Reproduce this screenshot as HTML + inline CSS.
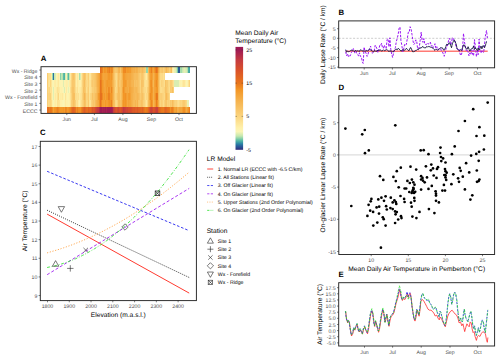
<!DOCTYPE html>
<html><head><meta charset="utf-8"><title>Figure</title>
<style>html,body{margin:0;padding:0;background:#fff;overflow:hidden}svg{display:block}text{text-rendering:geometricPrecision}</style>
</head><body>
<svg width="500" height="359" viewBox="0 0 500 359" font-family='"Liberation Sans", Arial, Helvetica, sans-serif'>
<rect width="500" height="359" fill="#fff"/>
<g shape-rendering="crispEdges">
<rect x="100.46" y="66.70" width="0.97" height="6.72" fill="#e56e1f"/>
<rect x="101.38" y="66.70" width="0.97" height="6.72" fill="#e9771d"/>
<rect x="102.30" y="66.70" width="0.97" height="6.72" fill="#ee8621"/>
<rect x="103.22" y="66.70" width="0.97" height="6.72" fill="#f49f32"/>
<rect x="104.14" y="66.70" width="0.97" height="6.72" fill="#f29325"/>
<rect x="105.06" y="66.70" width="0.97" height="6.72" fill="#f39727"/>
<rect x="105.98" y="66.70" width="0.97" height="6.72" fill="#f39c2f"/>
<rect x="106.90" y="66.70" width="0.97" height="6.72" fill="#ef8a22"/>
<rect x="107.82" y="66.70" width="0.97" height="6.72" fill="#ef8a22"/>
<rect x="108.74" y="66.70" width="0.97" height="6.72" fill="#eb7d1f"/>
<rect x="109.66" y="66.70" width="0.97" height="6.72" fill="#f29425"/>
<rect x="110.58" y="66.70" width="0.97" height="6.72" fill="#ee8722"/>
<rect x="111.50" y="66.70" width="0.97" height="6.72" fill="#eb7f1f"/>
<rect x="112.42" y="66.70" width="0.97" height="6.72" fill="#f18f24"/>
<rect x="113.34" y="66.70" width="0.97" height="6.72" fill="#f6b450"/>
<rect x="114.26" y="66.70" width="0.97" height="6.72" fill="#f8c163"/>
<rect x="115.18" y="66.70" width="0.97" height="6.72" fill="#f9c86c"/>
<rect x="116.10" y="66.70" width="0.97" height="6.72" fill="#f9c66a"/>
<rect x="117.02" y="66.70" width="0.97" height="6.72" fill="#f8c264"/>
<rect x="117.94" y="66.70" width="0.97" height="6.72" fill="#f6b552"/>
<rect x="118.86" y="66.70" width="0.97" height="6.72" fill="#f6b34e"/>
<rect x="119.78" y="66.70" width="0.97" height="6.72" fill="#f9c569"/>
<rect x="120.70" y="66.70" width="0.97" height="6.72" fill="#f5b34e"/>
<rect x="121.62" y="66.70" width="0.97" height="6.72" fill="#f4a73d"/>
<rect x="122.54" y="66.70" width="0.97" height="6.72" fill="#f39728"/>
<rect x="123.46" y="66.70" width="0.97" height="6.72" fill="#ef8a22"/>
<rect x="124.38" y="66.70" width="0.97" height="6.72" fill="#ef8922"/>
<rect x="125.30" y="66.70" width="0.97" height="6.72" fill="#ee8721"/>
<rect x="126.22" y="66.70" width="0.97" height="6.72" fill="#f39c2e"/>
<rect x="127.14" y="66.70" width="0.97" height="6.72" fill="#f39829"/>
<rect x="128.06" y="66.70" width="0.97" height="6.72" fill="#f3992a"/>
<rect x="128.98" y="66.70" width="0.97" height="6.72" fill="#f39c2f"/>
<rect x="129.90" y="66.70" width="0.97" height="6.72" fill="#f39a2c"/>
<rect x="130.82" y="66.70" width="0.97" height="6.72" fill="#f4a83f"/>
<rect x="131.74" y="66.70" width="0.97" height="6.72" fill="#f5ac44"/>
<rect x="132.66" y="66.70" width="0.97" height="6.72" fill="#f5af49"/>
<rect x="133.58" y="66.70" width="0.97" height="6.72" fill="#f5ad47"/>
<rect x="134.50" y="66.70" width="0.97" height="6.72" fill="#f6b551"/>
<rect x="135.42" y="66.70" width="0.97" height="6.72" fill="#f6b450"/>
<rect x="136.34" y="66.70" width="0.97" height="6.72" fill="#f5af49"/>
<rect x="137.26" y="66.70" width="0.97" height="6.72" fill="#f5b24d"/>
<rect x="138.18" y="66.70" width="0.97" height="6.72" fill="#f7bc5b"/>
<rect x="139.10" y="66.70" width="0.97" height="6.72" fill="#f7bb5a"/>
<rect x="140.02" y="66.70" width="0.97" height="6.72" fill="#f8c264"/>
<rect x="140.94" y="66.70" width="0.97" height="6.72" fill="#f8c061"/>
<rect x="141.86" y="66.70" width="0.97" height="6.72" fill="#f7ba59"/>
<rect x="142.78" y="66.70" width="0.97" height="6.72" fill="#f8c264"/>
<rect x="143.70" y="66.70" width="0.97" height="6.72" fill="#f9c66a"/>
<rect x="144.62" y="66.70" width="0.97" height="6.72" fill="#fad078"/>
<rect x="145.54" y="66.70" width="0.97" height="6.72" fill="#fcdc8a"/>
<rect x="146.46" y="66.70" width="0.97" height="6.72" fill="#96d7aa"/>
<rect x="147.38" y="66.70" width="0.97" height="6.72" fill="#96d7aa"/>
<rect x="148.30" y="66.70" width="0.97" height="6.72" fill="#f7ba59"/>
<rect x="149.22" y="66.70" width="0.97" height="6.72" fill="#f39c2f"/>
<rect x="150.14" y="66.70" width="0.97" height="6.72" fill="#f29425"/>
<rect x="151.06" y="66.70" width="0.97" height="6.72" fill="#eb7e1f"/>
<rect x="151.98" y="66.70" width="0.97" height="6.72" fill="#f39b2d"/>
<rect x="152.90" y="66.70" width="0.97" height="6.72" fill="#f4a439"/>
<rect x="153.82" y="66.70" width="0.97" height="6.72" fill="#f39626"/>
<rect x="154.74" y="66.70" width="0.97" height="6.72" fill="#ed8320"/>
<rect x="155.66" y="66.70" width="0.97" height="6.72" fill="#e6701e"/>
<rect x="156.58" y="66.70" width="0.97" height="6.72" fill="#ec801f"/>
<rect x="157.50" y="66.70" width="0.97" height="6.72" fill="#f08c23"/>
<rect x="158.42" y="66.70" width="0.97" height="6.72" fill="#f4a940"/>
<rect x="159.34" y="66.70" width="0.97" height="6.72" fill="#f7bd5d"/>
<rect x="160.26" y="66.70" width="0.97" height="6.72" fill="#facb72"/>
<rect x="161.18" y="66.70" width="0.97" height="6.72" fill="#f9c86c"/>
<rect x="162.10" y="66.70" width="0.97" height="6.72" fill="#f9c569"/>
<rect x="163.02" y="66.70" width="0.97" height="6.72" fill="#fad079"/>
<rect x="163.94" y="66.70" width="0.97" height="6.72" fill="#f9ca6f"/>
<rect x="164.86" y="66.70" width="0.97" height="6.72" fill="#f8c163"/>
<rect x="165.78" y="66.70" width="0.97" height="6.72" fill="#f6b754"/>
<rect x="166.70" y="66.70" width="0.97" height="6.72" fill="#f8c264"/>
<rect x="167.62" y="66.70" width="0.97" height="6.72" fill="#f8c467"/>
<rect x="168.54" y="66.70" width="0.97" height="6.72" fill="#f9cb71"/>
<rect x="169.46" y="66.70" width="0.97" height="6.72" fill="#fad17a"/>
<rect x="170.38" y="66.70" width="0.97" height="6.72" fill="#f9c76b"/>
<rect x="171.30" y="66.70" width="0.97" height="6.72" fill="#f7bb5a"/>
<rect x="172.22" y="66.70" width="0.97" height="6.72" fill="#fee99f"/>
<rect x="173.14" y="66.70" width="0.97" height="6.72" fill="#fdf2ae"/>
<rect x="174.06" y="66.70" width="0.97" height="6.72" fill="#e8f1b4"/>
<rect x="174.98" y="66.70" width="0.97" height="6.72" fill="#e2efb3"/>
<rect x="175.90" y="66.70" width="0.97" height="6.72" fill="#c5e8b0"/>
<rect x="176.82" y="66.70" width="0.97" height="6.72" fill="#76c8a8"/>
<rect x="177.74" y="66.70" width="0.97" height="6.72" fill="#2a5b99"/>
<rect x="178.66" y="66.70" width="0.97" height="6.72" fill="#2a5b99"/>
<rect x="179.58" y="66.70" width="0.97" height="6.72" fill="#a9deac"/>
<rect x="180.50" y="66.70" width="0.97" height="6.72" fill="#a2dbac"/>
<rect x="181.42" y="66.70" width="0.97" height="6.72" fill="#a3dcac"/>
<rect x="182.34" y="66.70" width="0.97" height="6.72" fill="#cae9b1"/>
<rect x="183.26" y="66.70" width="0.97" height="6.72" fill="#daedb2"/>
<rect x="184.18" y="66.70" width="0.97" height="6.72" fill="#e5f0b4"/>
<rect x="185.10" y="66.70" width="0.97" height="6.72" fill="#deeeb3"/>
<rect x="186.02" y="66.70" width="0.97" height="6.72" fill="#d5ecb2"/>
<rect x="186.94" y="66.70" width="0.97" height="6.72" fill="#afe0ad"/>
<rect x="187.86" y="66.70" width="0.97" height="6.72" fill="#4aada5"/>
<rect x="188.78" y="66.70" width="0.97" height="6.72" fill="#44a5a5"/>
<rect x="47.10" y="73.37" width="0.97" height="6.72" fill="#facd74"/>
<rect x="48.02" y="73.37" width="0.97" height="6.72" fill="#fcdc8b"/>
<rect x="48.94" y="73.37" width="0.97" height="6.72" fill="#fddf90"/>
<rect x="49.86" y="73.37" width="0.97" height="6.72" fill="#fddf90"/>
<rect x="50.78" y="73.37" width="0.97" height="6.72" fill="#ffeda5"/>
<rect x="51.70" y="73.37" width="0.97" height="6.72" fill="#98d8aa"/>
<rect x="52.62" y="73.37" width="0.97" height="6.72" fill="#2a72a0"/>
<rect x="53.54" y="73.37" width="0.97" height="6.72" fill="#41a2a5"/>
<rect x="54.46" y="73.37" width="0.97" height="6.72" fill="#c7e9b0"/>
<rect x="55.38" y="73.37" width="0.97" height="6.72" fill="#d7ecb2"/>
<rect x="56.30" y="73.37" width="0.97" height="6.72" fill="#fbf4b3"/>
<rect x="57.22" y="73.37" width="0.97" height="6.72" fill="#fff0a9"/>
<rect x="58.14" y="73.37" width="0.97" height="6.72" fill="#fee99f"/>
<rect x="59.06" y="73.37" width="0.97" height="6.72" fill="#fbf4b4"/>
<rect x="59.98" y="73.37" width="0.97" height="6.72" fill="#8cd2a9"/>
<rect x="60.90" y="73.37" width="0.97" height="6.72" fill="#c0e6af"/>
<rect x="61.82" y="73.37" width="0.97" height="6.72" fill="#b4e2ae"/>
<rect x="62.74" y="73.37" width="0.97" height="6.72" fill="#5dbca6"/>
<rect x="63.66" y="73.37" width="0.97" height="6.72" fill="#4fb5a5"/>
<rect x="64.58" y="73.37" width="0.97" height="6.72" fill="#daedb2"/>
<rect x="65.50" y="73.37" width="0.97" height="6.72" fill="#fef1ac"/>
<rect x="66.42" y="73.37" width="0.97" height="6.72" fill="#fbf4b3"/>
<rect x="67.34" y="73.37" width="0.97" height="6.72" fill="#a2dbac"/>
<rect x="68.26" y="73.37" width="0.97" height="6.72" fill="#5abaa6"/>
<rect x="69.18" y="73.37" width="0.97" height="6.72" fill="#c2e7b0"/>
<rect x="70.10" y="73.37" width="0.97" height="6.72" fill="#feeaa0"/>
<rect x="71.02" y="73.37" width="0.97" height="6.72" fill="#fbd580"/>
<rect x="71.94" y="73.37" width="0.97" height="6.72" fill="#f9c669"/>
<rect x="72.86" y="73.37" width="0.97" height="6.72" fill="#f8c162"/>
<rect x="73.78" y="73.37" width="0.97" height="6.72" fill="#f9c86d"/>
<rect x="74.70" y="73.37" width="0.97" height="6.72" fill="#fcdd8d"/>
<rect x="75.62" y="73.37" width="0.97" height="6.72" fill="#ffefa8"/>
<rect x="76.54" y="73.37" width="0.97" height="6.72" fill="#fde192"/>
<rect x="77.46" y="73.37" width="0.97" height="6.72" fill="#fee79c"/>
<rect x="78.38" y="73.37" width="0.97" height="6.72" fill="#fdf2ae"/>
<rect x="79.30" y="73.37" width="0.97" height="6.72" fill="#addfad"/>
<rect x="80.22" y="73.37" width="0.97" height="6.72" fill="#d7ecb2"/>
<rect x="81.14" y="73.37" width="0.97" height="6.72" fill="#fee99e"/>
<rect x="82.06" y="73.37" width="0.97" height="6.72" fill="#fbd580"/>
<rect x="82.98" y="73.37" width="0.97" height="6.72" fill="#f9c66a"/>
<rect x="83.90" y="73.37" width="0.97" height="6.72" fill="#f8bf60"/>
<rect x="84.82" y="73.37" width="0.97" height="6.72" fill="#f9c76b"/>
<rect x="85.74" y="73.37" width="0.97" height="6.72" fill="#fcdc8a"/>
<rect x="86.66" y="73.37" width="0.97" height="6.72" fill="#fcd987"/>
<rect x="87.58" y="73.37" width="0.97" height="6.72" fill="#face75"/>
<rect x="88.50" y="73.37" width="0.97" height="6.72" fill="#fbd37d"/>
<rect x="89.42" y="73.37" width="0.97" height="6.72" fill="#fee69a"/>
<rect x="90.34" y="73.37" width="0.97" height="6.72" fill="#fee69b"/>
<rect x="91.26" y="73.37" width="0.97" height="6.72" fill="#fbd580"/>
<rect x="92.18" y="73.37" width="0.97" height="6.72" fill="#facd74"/>
<rect x="93.10" y="73.37" width="0.97" height="6.72" fill="#f9cb71"/>
<rect x="94.02" y="73.37" width="0.97" height="6.72" fill="#f9c86c"/>
<rect x="94.94" y="73.37" width="0.97" height="6.72" fill="#f8c365"/>
<rect x="95.86" y="73.37" width="0.97" height="6.72" fill="#f7ba59"/>
<rect x="96.78" y="73.37" width="0.97" height="6.72" fill="#f5b24d"/>
<rect x="97.70" y="73.37" width="0.97" height="6.72" fill="#f5aa41"/>
<rect x="98.62" y="73.37" width="0.97" height="6.72" fill="#f4a135"/>
<rect x="99.54" y="73.37" width="0.97" height="6.72" fill="#f39626"/>
<rect x="100.46" y="73.37" width="0.97" height="6.72" fill="#ec8120"/>
<rect x="101.38" y="73.37" width="0.97" height="6.72" fill="#ef8b23"/>
<rect x="102.30" y="73.37" width="0.97" height="6.72" fill="#f49f32"/>
<rect x="103.22" y="73.37" width="0.97" height="6.72" fill="#f4a63d"/>
<rect x="104.14" y="73.37" width="0.97" height="6.72" fill="#f4a439"/>
<rect x="105.06" y="73.37" width="0.97" height="6.72" fill="#f4a338"/>
<rect x="105.98" y="73.37" width="0.97" height="6.72" fill="#f4a439"/>
<rect x="106.90" y="73.37" width="0.97" height="6.72" fill="#f49f32"/>
<rect x="107.82" y="73.37" width="0.97" height="6.72" fill="#f39828"/>
<rect x="108.74" y="73.37" width="0.97" height="6.72" fill="#f39728"/>
<rect x="109.66" y="73.37" width="0.97" height="6.72" fill="#f49d30"/>
<rect x="110.58" y="73.37" width="0.97" height="6.72" fill="#f39727"/>
<rect x="111.50" y="73.37" width="0.97" height="6.72" fill="#f39828"/>
<rect x="112.42" y="73.37" width="0.97" height="6.72" fill="#f4a63c"/>
<rect x="113.34" y="73.37" width="0.97" height="6.72" fill="#f7ba58"/>
<rect x="114.26" y="73.37" width="0.97" height="6.72" fill="#f9c86d"/>
<rect x="115.18" y="73.37" width="0.97" height="6.72" fill="#fbd682"/>
<rect x="116.10" y="73.37" width="0.97" height="6.72" fill="#fcda88"/>
<rect x="117.02" y="73.37" width="0.97" height="6.72" fill="#face75"/>
<rect x="117.94" y="73.37" width="0.97" height="6.72" fill="#f7be5f"/>
<rect x="118.86" y="73.37" width="0.97" height="6.72" fill="#f8c366"/>
<rect x="119.78" y="73.37" width="0.97" height="6.72" fill="#f9ca70"/>
<rect x="120.70" y="73.37" width="0.97" height="6.72" fill="#f8c163"/>
<rect x="121.62" y="73.37" width="0.97" height="6.72" fill="#f5b14b"/>
<rect x="122.54" y="73.37" width="0.97" height="6.72" fill="#f4a034"/>
<rect x="123.46" y="73.37" width="0.97" height="6.72" fill="#f3992a"/>
<rect x="124.38" y="73.37" width="0.97" height="6.72" fill="#f39b2d"/>
<rect x="125.30" y="73.37" width="0.97" height="6.72" fill="#f4a136"/>
<rect x="126.22" y="73.37" width="0.97" height="6.72" fill="#f4a53b"/>
<rect x="127.14" y="73.37" width="0.97" height="6.72" fill="#f4a83e"/>
<rect x="128.06" y="73.37" width="0.97" height="6.72" fill="#f4a941"/>
<rect x="128.98" y="73.37" width="0.97" height="6.72" fill="#f4a840"/>
<rect x="129.90" y="73.37" width="0.97" height="6.72" fill="#f4a940"/>
<rect x="130.82" y="73.37" width="0.97" height="6.72" fill="#f5af49"/>
<rect x="131.74" y="73.37" width="0.97" height="6.72" fill="#f5b24d"/>
<rect x="132.66" y="73.37" width="0.97" height="6.72" fill="#f6b653"/>
<rect x="133.58" y="73.37" width="0.97" height="6.72" fill="#f7bb5a"/>
<rect x="134.50" y="73.37" width="0.97" height="6.72" fill="#f7be5e"/>
<rect x="135.42" y="73.37" width="0.97" height="6.72" fill="#f7bc5c"/>
<rect x="136.34" y="73.37" width="0.97" height="6.72" fill="#f7bb5a"/>
<rect x="137.26" y="73.37" width="0.97" height="6.72" fill="#f7bc5b"/>
<rect x="138.18" y="73.37" width="0.97" height="6.72" fill="#f8c366"/>
<rect x="139.10" y="73.37" width="0.97" height="6.72" fill="#f9c96e"/>
<rect x="140.02" y="73.37" width="0.97" height="6.72" fill="#fad078"/>
<rect x="140.94" y="73.37" width="0.97" height="6.72" fill="#f9c76b"/>
<rect x="141.86" y="73.37" width="0.97" height="6.72" fill="#f9c569"/>
<rect x="142.78" y="73.37" width="0.97" height="6.72" fill="#facd75"/>
<rect x="143.70" y="73.37" width="0.97" height="6.72" fill="#fcd986"/>
<rect x="144.62" y="73.37" width="0.97" height="6.72" fill="#fde497"/>
<rect x="145.54" y="73.37" width="0.97" height="6.72" fill="#feeca3"/>
<rect x="146.46" y="73.37" width="0.97" height="6.72" fill="#feeba2"/>
<rect x="147.38" y="73.37" width="0.97" height="6.72" fill="#fcda88"/>
<rect x="148.30" y="73.37" width="0.97" height="6.72" fill="#f8c365"/>
<rect x="149.22" y="73.37" width="0.97" height="6.72" fill="#f5ae47"/>
<rect x="150.14" y="73.37" width="0.97" height="6.72" fill="#f49e32"/>
<rect x="151.06" y="73.37" width="0.97" height="6.72" fill="#f3992a"/>
<rect x="151.98" y="73.37" width="0.97" height="6.72" fill="#f4a337"/>
<rect x="152.90" y="73.37" width="0.97" height="6.72" fill="#f5b34e"/>
<rect x="153.82" y="73.37" width="0.97" height="6.72" fill="#f4a83f"/>
<rect x="154.74" y="73.37" width="0.97" height="6.72" fill="#f39c2e"/>
<rect x="155.66" y="73.37" width="0.97" height="6.72" fill="#f29425"/>
<rect x="156.58" y="73.37" width="0.97" height="6.72" fill="#f39727"/>
<rect x="157.50" y="73.37" width="0.97" height="6.72" fill="#f4a237"/>
<rect x="158.42" y="73.37" width="0.97" height="6.72" fill="#f6b653"/>
<rect x="159.34" y="73.37" width="0.97" height="6.72" fill="#f9c96e"/>
<rect x="160.26" y="73.37" width="0.97" height="6.72" fill="#fcd986"/>
<rect x="161.18" y="73.37" width="0.97" height="6.72" fill="#fcdb88"/>
<rect x="162.10" y="73.37" width="0.97" height="6.72" fill="#fcd986"/>
<rect x="163.02" y="73.37" width="0.97" height="6.72" fill="#fde091"/>
<rect x="163.94" y="73.37" width="0.97" height="6.72" fill="#fcda88"/>
<rect x="47.10" y="80.04" width="0.97" height="6.72" fill="#facd73"/>
<rect x="48.02" y="80.04" width="0.97" height="6.72" fill="#fddf8f"/>
<rect x="48.94" y="80.04" width="0.97" height="6.72" fill="#fde396"/>
<rect x="49.86" y="80.04" width="0.97" height="6.72" fill="#fbd57f"/>
<rect x="50.78" y="80.04" width="0.97" height="6.72" fill="#fde498"/>
<rect x="51.70" y="80.04" width="0.97" height="6.72" fill="#fcf3b1"/>
<rect x="52.62" y="80.04" width="0.97" height="6.72" fill="#f8f4b6"/>
<rect x="53.54" y="80.04" width="0.97" height="6.72" fill="#e8f1b4"/>
<rect x="54.46" y="80.04" width="0.97" height="6.72" fill="#ffeda6"/>
<rect x="55.38" y="80.04" width="0.97" height="6.72" fill="#feeca4"/>
<rect x="56.30" y="80.04" width="0.97" height="6.72" fill="#fdf2ae"/>
<rect x="57.22" y="80.04" width="0.97" height="6.72" fill="#ffeda5"/>
<rect x="58.14" y="80.04" width="0.97" height="6.72" fill="#fee79b"/>
<rect x="59.06" y="80.04" width="0.97" height="6.72" fill="#fdf2af"/>
<rect x="59.98" y="80.04" width="0.97" height="6.72" fill="#fcf3b1"/>
<rect x="60.90" y="80.04" width="0.97" height="6.72" fill="#fbf4b3"/>
<rect x="61.82" y="80.04" width="0.97" height="6.72" fill="#fcf3b1"/>
<rect x="62.74" y="80.04" width="0.97" height="6.72" fill="#dfeeb3"/>
<rect x="63.66" y="80.04" width="0.97" height="6.72" fill="#fdf2b0"/>
<rect x="64.58" y="80.04" width="0.97" height="6.72" fill="#fef1ad"/>
<rect x="65.50" y="80.04" width="0.97" height="6.72" fill="#feeba2"/>
<rect x="66.42" y="80.04" width="0.97" height="6.72" fill="#ffeea6"/>
<rect x="67.34" y="80.04" width="0.97" height="6.72" fill="#ffefa9"/>
<rect x="68.26" y="80.04" width="0.97" height="6.72" fill="#f3f3b5"/>
<rect x="69.18" y="80.04" width="0.97" height="6.72" fill="#ffeda6"/>
<rect x="70.10" y="80.04" width="0.97" height="6.72" fill="#fde497"/>
<rect x="71.02" y="80.04" width="0.97" height="6.72" fill="#fbd37d"/>
<rect x="71.94" y="80.04" width="0.97" height="6.72" fill="#f9c76c"/>
<rect x="72.86" y="80.04" width="0.97" height="6.72" fill="#f9c86d"/>
<rect x="73.78" y="80.04" width="0.97" height="6.72" fill="#f9ca70"/>
<rect x="74.70" y="80.04" width="0.97" height="6.72" fill="#fddf8f"/>
<rect x="75.62" y="80.04" width="0.97" height="6.72" fill="#ffefa9"/>
<rect x="76.54" y="80.04" width="0.97" height="6.72" fill="#fcd985"/>
<rect x="77.46" y="80.04" width="0.97" height="6.72" fill="#fee79c"/>
<rect x="78.38" y="80.04" width="0.97" height="6.72" fill="#ffeda5"/>
<rect x="79.30" y="80.04" width="0.97" height="6.72" fill="#fef1ac"/>
<rect x="80.22" y="80.04" width="0.97" height="6.72" fill="#fff0aa"/>
<rect x="81.14" y="80.04" width="0.97" height="6.72" fill="#fee69a"/>
<rect x="82.06" y="80.04" width="0.97" height="6.72" fill="#fbd37d"/>
<rect x="82.98" y="80.04" width="0.97" height="6.72" fill="#f9c76b"/>
<rect x="83.90" y="80.04" width="0.97" height="6.72" fill="#f7bd5c"/>
<rect x="84.82" y="80.04" width="0.97" height="6.72" fill="#facd75"/>
<rect x="85.74" y="80.04" width="0.97" height="6.72" fill="#fcd884"/>
<rect x="86.66" y="80.04" width="0.97" height="6.72" fill="#fcdb89"/>
<rect x="87.58" y="80.04" width="0.97" height="6.72" fill="#fbd17a"/>
<rect x="88.50" y="80.04" width="0.97" height="6.72" fill="#facf77"/>
<rect x="89.42" y="80.04" width="0.97" height="6.72" fill="#fde193"/>
<rect x="90.34" y="80.04" width="0.97" height="6.72" fill="#fde192"/>
<rect x="91.26" y="80.04" width="0.97" height="6.72" fill="#fad079"/>
<rect x="92.18" y="80.04" width="0.97" height="6.72" fill="#f9c86d"/>
<rect x="93.10" y="80.04" width="0.97" height="6.72" fill="#facc73"/>
<rect x="94.02" y="80.04" width="0.97" height="6.72" fill="#f9c86c"/>
<rect x="94.94" y="80.04" width="0.97" height="6.72" fill="#f8c467"/>
<rect x="95.86" y="80.04" width="0.97" height="6.72" fill="#f7bb5a"/>
<rect x="96.78" y="80.04" width="0.97" height="6.72" fill="#f5b04a"/>
<rect x="97.70" y="80.04" width="0.97" height="6.72" fill="#f5aa42"/>
<rect x="98.62" y="80.04" width="0.97" height="6.72" fill="#f49f33"/>
<rect x="99.54" y="80.04" width="0.97" height="6.72" fill="#f29425"/>
<rect x="100.46" y="80.04" width="0.97" height="6.72" fill="#e7721d"/>
<rect x="101.38" y="80.04" width="0.97" height="6.72" fill="#ec8120"/>
<rect x="102.30" y="80.04" width="0.97" height="6.72" fill="#f39829"/>
<rect x="103.22" y="80.04" width="0.97" height="6.72" fill="#f49f33"/>
<rect x="104.14" y="80.04" width="0.97" height="6.72" fill="#f4a73d"/>
<rect x="105.06" y="80.04" width="0.97" height="6.72" fill="#f4a236"/>
<rect x="105.98" y="80.04" width="0.97" height="6.72" fill="#f39c2f"/>
<rect x="106.90" y="80.04" width="0.97" height="6.72" fill="#f39929"/>
<rect x="107.82" y="80.04" width="0.97" height="6.72" fill="#f39c2e"/>
<rect x="108.74" y="80.04" width="0.97" height="6.72" fill="#f39c2e"/>
<rect x="109.66" y="80.04" width="0.97" height="6.72" fill="#f49d30"/>
<rect x="110.58" y="80.04" width="0.97" height="6.72" fill="#f39c2f"/>
<rect x="111.50" y="80.04" width="0.97" height="6.72" fill="#f39a2c"/>
<rect x="112.42" y="80.04" width="0.97" height="6.72" fill="#f5ac44"/>
<rect x="113.34" y="80.04" width="0.97" height="6.72" fill="#f6b956"/>
<rect x="114.26" y="80.04" width="0.97" height="6.72" fill="#f9c669"/>
<rect x="115.18" y="80.04" width="0.97" height="6.72" fill="#fad078"/>
<rect x="116.10" y="80.04" width="0.97" height="6.72" fill="#fcdd8c"/>
<rect x="117.02" y="80.04" width="0.97" height="6.72" fill="#facb72"/>
<rect x="117.94" y="80.04" width="0.97" height="6.72" fill="#f7bd5d"/>
<rect x="118.86" y="80.04" width="0.97" height="6.72" fill="#f9c96f"/>
<rect x="119.78" y="80.04" width="0.97" height="6.72" fill="#f9c66a"/>
<rect x="120.70" y="80.04" width="0.97" height="6.72" fill="#f7bd5c"/>
<rect x="121.62" y="80.04" width="0.97" height="6.72" fill="#f6b551"/>
<rect x="122.54" y="80.04" width="0.97" height="6.72" fill="#f39929"/>
<rect x="123.46" y="80.04" width="0.97" height="6.72" fill="#f3992b"/>
<rect x="124.38" y="80.04" width="0.97" height="6.72" fill="#f39a2c"/>
<rect x="125.30" y="80.04" width="0.97" height="6.72" fill="#f3992a"/>
<rect x="126.22" y="80.04" width="0.97" height="6.72" fill="#f4a034"/>
<rect x="127.14" y="80.04" width="0.97" height="6.72" fill="#f5ad45"/>
<rect x="128.06" y="80.04" width="0.97" height="6.72" fill="#f5aa42"/>
<rect x="128.98" y="80.04" width="0.97" height="6.72" fill="#f4a83f"/>
<rect x="129.90" y="80.04" width="0.97" height="6.72" fill="#f5ab44"/>
<rect x="130.82" y="80.04" width="0.97" height="6.72" fill="#f6b34f"/>
<rect x="131.74" y="80.04" width="0.97" height="6.72" fill="#f6b551"/>
<rect x="132.66" y="80.04" width="0.97" height="6.72" fill="#f6b450"/>
<rect x="133.58" y="80.04" width="0.97" height="6.72" fill="#f8c264"/>
<rect x="134.50" y="80.04" width="0.97" height="6.72" fill="#f7bf5f"/>
<rect x="135.42" y="80.04" width="0.97" height="6.72" fill="#f7be5f"/>
<rect x="136.34" y="80.04" width="0.97" height="6.72" fill="#f8c264"/>
<rect x="137.26" y="80.04" width="0.97" height="6.72" fill="#f8bf60"/>
<rect x="138.18" y="80.04" width="0.97" height="6.72" fill="#f8c366"/>
<rect x="139.10" y="80.04" width="0.97" height="6.72" fill="#f9ca70"/>
<rect x="140.02" y="80.04" width="0.97" height="6.72" fill="#fbd681"/>
<rect x="140.94" y="80.04" width="0.97" height="6.72" fill="#f8c264"/>
<rect x="141.86" y="80.04" width="0.97" height="6.72" fill="#f8c366"/>
<rect x="142.78" y="80.04" width="0.97" height="6.72" fill="#f9c86c"/>
<rect x="143.70" y="80.04" width="0.97" height="6.72" fill="#fcdd8c"/>
<rect x="144.62" y="80.04" width="0.97" height="6.72" fill="#fde395"/>
<rect x="145.54" y="80.04" width="0.97" height="6.72" fill="#ffeda5"/>
<rect x="146.46" y="80.04" width="0.97" height="6.72" fill="#fde192"/>
<rect x="147.38" y="80.04" width="0.97" height="6.72" fill="#fcdb8a"/>
<rect x="148.30" y="80.04" width="0.97" height="6.72" fill="#f9c96f"/>
<rect x="149.22" y="80.04" width="0.97" height="6.72" fill="#f5af49"/>
<rect x="150.14" y="80.04" width="0.97" height="6.72" fill="#f39728"/>
<rect x="151.06" y="80.04" width="0.97" height="6.72" fill="#f18f24"/>
<rect x="151.98" y="80.04" width="0.97" height="6.72" fill="#f4a63c"/>
<rect x="152.90" y="80.04" width="0.97" height="6.72" fill="#f6b855"/>
<rect x="153.82" y="80.04" width="0.97" height="6.72" fill="#f4a236"/>
<rect x="154.74" y="80.04" width="0.97" height="6.72" fill="#f39a2c"/>
<rect x="155.66" y="80.04" width="0.97" height="6.72" fill="#ef8b23"/>
<rect x="156.58" y="80.04" width="0.97" height="6.72" fill="#f39c2e"/>
<rect x="157.50" y="80.04" width="0.97" height="6.72" fill="#f4a940"/>
<rect x="158.42" y="80.04" width="0.97" height="6.72" fill="#f6b551"/>
<rect x="159.34" y="80.04" width="0.97" height="6.72" fill="#f9cb71"/>
<rect x="160.26" y="80.04" width="0.97" height="6.72" fill="#fcdd8c"/>
<rect x="161.18" y="80.04" width="0.97" height="6.72" fill="#fbd27b"/>
<rect x="162.10" y="80.04" width="0.97" height="6.72" fill="#fbd580"/>
<rect x="163.02" y="80.04" width="0.97" height="6.72" fill="#fcd885"/>
<rect x="163.94" y="80.04" width="0.97" height="6.72" fill="#fcde8e"/>
<rect x="164.86" y="80.04" width="0.97" height="6.72" fill="#f8c365"/>
<rect x="165.78" y="80.04" width="0.97" height="6.72" fill="#f9cb70"/>
<rect x="166.70" y="80.04" width="0.97" height="6.72" fill="#f9cb71"/>
<rect x="167.62" y="80.04" width="0.97" height="6.72" fill="#fbd783"/>
<rect x="168.54" y="80.04" width="0.97" height="6.72" fill="#fcde8d"/>
<rect x="169.46" y="80.04" width="0.97" height="6.72" fill="#fcda87"/>
<rect x="170.38" y="80.04" width="0.97" height="6.72" fill="#facb72"/>
<rect x="171.30" y="80.04" width="0.97" height="6.72" fill="#facc72"/>
<rect x="172.22" y="80.04" width="0.97" height="6.72" fill="#fbd47f"/>
<rect x="173.14" y="80.04" width="0.97" height="6.72" fill="#fde193"/>
<rect x="174.06" y="80.04" width="0.97" height="6.72" fill="#d9edb2"/>
<rect x="174.98" y="80.04" width="0.97" height="6.72" fill="#d9edb2"/>
<rect x="175.90" y="80.04" width="0.97" height="6.72" fill="#d9edb2"/>
<rect x="176.82" y="80.04" width="0.97" height="6.72" fill="#d9edb2"/>
<rect x="177.74" y="80.04" width="0.97" height="6.72" fill="#d9edb2"/>
<rect x="178.66" y="80.04" width="0.97" height="6.72" fill="#f4f4b5"/>
<rect x="179.58" y="80.04" width="0.97" height="6.72" fill="#fdf2ae"/>
<rect x="180.50" y="80.04" width="0.97" height="6.72" fill="#eff2b5"/>
<rect x="181.42" y="80.04" width="0.97" height="6.72" fill="#fcf3b2"/>
<rect x="182.34" y="80.04" width="0.97" height="6.72" fill="#feeca4"/>
<rect x="183.26" y="80.04" width="0.97" height="6.72" fill="#fde599"/>
<rect x="184.18" y="80.04" width="0.97" height="6.72" fill="#fee69b"/>
<rect x="185.10" y="80.04" width="0.97" height="6.72" fill="#fff0aa"/>
<rect x="186.02" y="80.04" width="0.97" height="6.72" fill="#faf5b6"/>
<rect x="186.94" y="80.04" width="0.97" height="6.72" fill="#fdf2af"/>
<rect x="187.86" y="80.04" width="0.97" height="6.72" fill="#fde497"/>
<rect x="188.78" y="80.04" width="0.97" height="6.72" fill="#fbd47e"/>
<rect x="47.10" y="86.71" width="0.97" height="6.72" fill="#fad078"/>
<rect x="48.02" y="86.71" width="0.97" height="6.72" fill="#fcd884"/>
<rect x="48.94" y="86.71" width="0.97" height="6.72" fill="#fbd47e"/>
<rect x="49.86" y="86.71" width="0.97" height="6.72" fill="#fde091"/>
<rect x="50.78" y="86.71" width="0.97" height="6.72" fill="#fde091"/>
<rect x="51.70" y="86.71" width="0.97" height="6.72" fill="#fcf3b1"/>
<rect x="52.62" y="86.71" width="0.97" height="6.72" fill="#e0efb3"/>
<rect x="53.54" y="86.71" width="0.97" height="6.72" fill="#fcf3b1"/>
<rect x="54.46" y="86.71" width="0.97" height="6.72" fill="#fef1ae"/>
<rect x="55.38" y="86.71" width="0.97" height="6.72" fill="#ffefa9"/>
<rect x="56.30" y="86.71" width="0.97" height="6.72" fill="#feeba2"/>
<rect x="57.22" y="86.71" width="0.97" height="6.72" fill="#fde091"/>
<rect x="58.14" y="86.71" width="0.97" height="6.72" fill="#fde498"/>
<rect x="59.06" y="86.71" width="0.97" height="6.72" fill="#fee9a0"/>
<rect x="59.98" y="86.71" width="0.97" height="6.72" fill="#fef1ad"/>
<rect x="60.90" y="86.71" width="0.97" height="6.72" fill="#fff0aa"/>
<rect x="61.82" y="86.71" width="0.97" height="6.72" fill="#fdf2af"/>
<rect x="62.74" y="86.71" width="0.97" height="6.72" fill="#f7f4b6"/>
<rect x="63.66" y="86.71" width="0.97" height="6.72" fill="#ddeeb3"/>
<rect x="64.58" y="86.71" width="0.97" height="6.72" fill="#fdf2af"/>
<rect x="65.50" y="86.71" width="0.97" height="6.72" fill="#ffefa9"/>
<rect x="66.42" y="86.71" width="0.97" height="6.72" fill="#feeaa0"/>
<rect x="67.34" y="86.71" width="0.97" height="6.72" fill="#fbf4b3"/>
<rect x="68.26" y="86.71" width="0.97" height="6.72" fill="#e8f1b4"/>
<rect x="69.18" y="86.71" width="0.97" height="6.72" fill="#fbf4b4"/>
<rect x="70.10" y="86.71" width="0.97" height="6.72" fill="#fcdd8d"/>
<rect x="71.02" y="86.71" width="0.97" height="6.72" fill="#face75"/>
<rect x="71.94" y="86.71" width="0.97" height="6.72" fill="#f8c467"/>
<rect x="72.86" y="86.71" width="0.97" height="6.72" fill="#f8c366"/>
<rect x="73.78" y="86.71" width="0.97" height="6.72" fill="#facb72"/>
<rect x="74.70" y="86.71" width="0.97" height="6.72" fill="#fcdc8a"/>
<rect x="75.62" y="86.71" width="0.97" height="6.72" fill="#fee79c"/>
<rect x="76.54" y="86.71" width="0.97" height="6.72" fill="#fde192"/>
<rect x="77.46" y="86.71" width="0.97" height="6.72" fill="#fde193"/>
<rect x="78.38" y="86.71" width="0.97" height="6.72" fill="#ffeea7"/>
<rect x="79.30" y="86.71" width="0.97" height="6.72" fill="#feeca4"/>
<rect x="80.22" y="86.71" width="0.97" height="6.72" fill="#fee89e"/>
<rect x="81.14" y="86.71" width="0.97" height="6.72" fill="#fde192"/>
<rect x="82.06" y="86.71" width="0.97" height="6.72" fill="#fbd681"/>
<rect x="82.98" y="86.71" width="0.97" height="6.72" fill="#f8c061"/>
<rect x="83.90" y="86.71" width="0.97" height="6.72" fill="#f8c263"/>
<rect x="84.82" y="86.71" width="0.97" height="6.72" fill="#f9c96e"/>
<rect x="85.74" y="86.71" width="0.97" height="6.72" fill="#fddf8f"/>
<rect x="86.66" y="86.71" width="0.97" height="6.72" fill="#fbd783"/>
<rect x="87.58" y="86.71" width="0.97" height="6.72" fill="#facd74"/>
<rect x="88.50" y="86.71" width="0.97" height="6.72" fill="#fbd17a"/>
<rect x="89.42" y="86.71" width="0.97" height="6.72" fill="#fde497"/>
<rect x="90.34" y="86.71" width="0.97" height="6.72" fill="#fde091"/>
<rect x="91.26" y="86.71" width="0.97" height="6.72" fill="#fcd987"/>
<rect x="92.18" y="86.71" width="0.97" height="6.72" fill="#facf77"/>
<rect x="93.10" y="86.71" width="0.97" height="6.72" fill="#facf77"/>
<rect x="94.02" y="86.71" width="0.97" height="6.72" fill="#f9c96e"/>
<rect x="94.94" y="86.71" width="0.97" height="6.72" fill="#f9c96e"/>
<rect x="95.86" y="86.71" width="0.97" height="6.72" fill="#f8c061"/>
<rect x="96.78" y="86.71" width="0.97" height="6.72" fill="#f6b34f"/>
<rect x="97.70" y="86.71" width="0.97" height="6.72" fill="#f5ac44"/>
<rect x="98.62" y="86.71" width="0.97" height="6.72" fill="#f49d2f"/>
<rect x="99.54" y="86.71" width="0.97" height="6.72" fill="#f18f24"/>
<rect x="100.46" y="86.71" width="0.97" height="6.72" fill="#e7741d"/>
<rect x="101.38" y="86.71" width="0.97" height="6.72" fill="#eb7f1f"/>
<rect x="102.30" y="86.71" width="0.97" height="6.72" fill="#f3992a"/>
<rect x="103.22" y="86.71" width="0.97" height="6.72" fill="#f49e32"/>
<rect x="104.14" y="86.71" width="0.97" height="6.72" fill="#f4a338"/>
<rect x="105.06" y="86.71" width="0.97" height="6.72" fill="#f4a439"/>
<rect x="105.98" y="86.71" width="0.97" height="6.72" fill="#f39a2c"/>
<rect x="106.90" y="86.71" width="0.97" height="6.72" fill="#f4a236"/>
<rect x="107.82" y="86.71" width="0.97" height="6.72" fill="#f08c23"/>
<rect x="108.74" y="86.71" width="0.97" height="6.72" fill="#f08e24"/>
<rect x="109.66" y="86.71" width="0.97" height="6.72" fill="#f4a136"/>
<rect x="110.58" y="86.71" width="0.97" height="6.72" fill="#ee8822"/>
<rect x="111.50" y="86.71" width="0.97" height="6.72" fill="#ee8822"/>
<rect x="112.42" y="86.71" width="0.97" height="6.72" fill="#f4a236"/>
<rect x="113.34" y="86.71" width="0.97" height="6.72" fill="#f6b653"/>
<rect x="114.26" y="86.71" width="0.97" height="6.72" fill="#f8c467"/>
<rect x="115.18" y="86.71" width="0.97" height="6.72" fill="#fcd985"/>
<rect x="116.10" y="86.71" width="0.97" height="6.72" fill="#fbd681"/>
<rect x="117.02" y="86.71" width="0.97" height="6.72" fill="#facd74"/>
<rect x="117.94" y="86.71" width="0.97" height="6.72" fill="#f7ba58"/>
<rect x="118.86" y="86.71" width="0.97" height="6.72" fill="#f8bf60"/>
<rect x="119.78" y="86.71" width="0.97" height="6.72" fill="#f9c569"/>
<rect x="120.70" y="86.71" width="0.97" height="6.72" fill="#f8c061"/>
<rect x="121.62" y="86.71" width="0.97" height="6.72" fill="#f4a941"/>
<rect x="122.54" y="86.71" width="0.97" height="6.72" fill="#f39b2d"/>
<rect x="123.46" y="86.71" width="0.97" height="6.72" fill="#f19024"/>
<rect x="124.38" y="86.71" width="0.97" height="6.72" fill="#f39c2f"/>
<rect x="125.30" y="86.71" width="0.97" height="6.72" fill="#f4a63c"/>
<rect x="126.22" y="86.71" width="0.97" height="6.72" fill="#f4a940"/>
<rect x="127.14" y="86.71" width="0.97" height="6.72" fill="#f4a83f"/>
<rect x="128.06" y="86.71" width="0.97" height="6.72" fill="#f5ae47"/>
<rect x="128.98" y="86.71" width="0.97" height="6.72" fill="#f4a136"/>
<rect x="129.90" y="86.71" width="0.97" height="6.72" fill="#f4a63d"/>
<rect x="130.82" y="86.71" width="0.97" height="6.72" fill="#f5ac44"/>
<rect x="131.74" y="86.71" width="0.97" height="6.72" fill="#f5af49"/>
<rect x="132.66" y="86.71" width="0.97" height="6.72" fill="#f6b34e"/>
<rect x="133.58" y="86.71" width="0.97" height="6.72" fill="#f7ba59"/>
<rect x="134.50" y="86.71" width="0.97" height="6.72" fill="#f8c467"/>
<rect x="135.42" y="86.71" width="0.97" height="6.72" fill="#f6b856"/>
<rect x="136.34" y="86.71" width="0.97" height="6.72" fill="#f6b754"/>
<rect x="137.26" y="86.71" width="0.97" height="6.72" fill="#f7bc5b"/>
<rect x="138.18" y="86.71" width="0.97" height="6.72" fill="#f8c366"/>
<rect x="139.10" y="86.71" width="0.97" height="6.72" fill="#f9c76b"/>
<rect x="140.02" y="86.71" width="0.97" height="6.72" fill="#fbd47e"/>
<rect x="140.94" y="86.71" width="0.97" height="6.72" fill="#f8c467"/>
<rect x="141.86" y="86.71" width="0.97" height="6.72" fill="#f9c96e"/>
<rect x="142.78" y="86.71" width="0.97" height="6.72" fill="#fbd27b"/>
<rect x="143.70" y="86.71" width="0.97" height="6.72" fill="#fcd985"/>
<rect x="144.62" y="86.71" width="0.97" height="6.72" fill="#fcda88"/>
<rect x="145.54" y="86.71" width="0.97" height="6.72" fill="#fee89e"/>
<rect x="146.46" y="86.71" width="0.97" height="6.72" fill="#fde091"/>
<rect x="147.38" y="86.71" width="0.97" height="6.72" fill="#fad078"/>
<rect x="148.30" y="86.71" width="0.97" height="6.72" fill="#f8c366"/>
<rect x="149.22" y="86.71" width="0.97" height="6.72" fill="#f5ae48"/>
<rect x="150.14" y="86.71" width="0.97" height="6.72" fill="#f39c2e"/>
<rect x="151.06" y="86.71" width="0.97" height="6.72" fill="#f19024"/>
<rect x="151.98" y="86.71" width="0.97" height="6.72" fill="#f39c2e"/>
<rect x="152.90" y="86.71" width="0.97" height="6.72" fill="#f5b04b"/>
<rect x="153.82" y="86.71" width="0.97" height="6.72" fill="#f4a43a"/>
<rect x="154.74" y="86.71" width="0.97" height="6.72" fill="#f4a034"/>
<rect x="155.66" y="86.71" width="0.97" height="6.72" fill="#f39728"/>
<rect x="156.58" y="86.71" width="0.97" height="6.72" fill="#f39728"/>
<rect x="157.50" y="86.71" width="0.97" height="6.72" fill="#f39c2f"/>
<rect x="158.42" y="86.71" width="0.97" height="6.72" fill="#f6b856"/>
<rect x="159.34" y="86.71" width="0.97" height="6.72" fill="#f9c86c"/>
<rect x="160.26" y="86.71" width="0.97" height="6.72" fill="#fcdc8b"/>
<rect x="161.18" y="86.71" width="0.97" height="6.72" fill="#fcdd8c"/>
<rect x="162.10" y="86.71" width="0.97" height="6.72" fill="#fcd986"/>
<rect x="163.02" y="86.71" width="0.97" height="6.72" fill="#fcd885"/>
<rect x="163.94" y="86.71" width="0.97" height="6.72" fill="#fbd47d"/>
<rect x="164.86" y="86.71" width="0.97" height="6.72" fill="#f8c366"/>
<rect x="165.78" y="86.71" width="0.97" height="6.72" fill="#f9c66a"/>
<rect x="166.70" y="86.71" width="0.97" height="6.72" fill="#face75"/>
<rect x="167.62" y="86.71" width="0.97" height="6.72" fill="#fbd580"/>
<rect x="168.54" y="86.71" width="0.97" height="6.72" fill="#fcda88"/>
<rect x="169.46" y="86.71" width="0.97" height="6.72" fill="#fcde8e"/>
<rect x="170.38" y="86.71" width="0.97" height="6.72" fill="#f9ca70"/>
<rect x="171.30" y="86.71" width="0.97" height="6.72" fill="#facb72"/>
<rect x="172.22" y="86.71" width="0.97" height="6.72" fill="#f8bf60"/>
<rect x="173.14" y="86.71" width="0.97" height="6.72" fill="#facf76"/>
<rect x="47.10" y="93.39" width="0.97" height="6.72" fill="#face75"/>
<rect x="48.02" y="93.39" width="0.97" height="6.72" fill="#fbd37d"/>
<rect x="48.94" y="93.39" width="0.97" height="6.72" fill="#fbd17a"/>
<rect x="49.86" y="93.39" width="0.97" height="6.72" fill="#facf77"/>
<rect x="50.78" y="93.39" width="0.97" height="6.72" fill="#fde192"/>
<rect x="51.70" y="93.39" width="0.97" height="6.72" fill="#fdf2ae"/>
<rect x="52.62" y="93.39" width="0.97" height="6.72" fill="#e3efb3"/>
<rect x="53.54" y="93.39" width="0.97" height="6.72" fill="#ffefa9"/>
<rect x="54.46" y="93.39" width="0.97" height="6.72" fill="#fff0ab"/>
<rect x="55.38" y="93.39" width="0.97" height="6.72" fill="#fee99f"/>
<rect x="56.30" y="93.39" width="0.97" height="6.72" fill="#ffeea7"/>
<rect x="57.22" y="93.39" width="0.97" height="6.72" fill="#fde294"/>
<rect x="58.14" y="93.39" width="0.97" height="6.72" fill="#fbd682"/>
<rect x="59.06" y="93.39" width="0.97" height="6.72" fill="#ffefa8"/>
<rect x="59.98" y="93.39" width="0.97" height="6.72" fill="#feeca3"/>
<rect x="60.90" y="93.39" width="0.97" height="6.72" fill="#ffeda5"/>
<rect x="61.82" y="93.39" width="0.97" height="6.72" fill="#fee89d"/>
<rect x="62.74" y="93.39" width="0.97" height="6.72" fill="#fff0aa"/>
<rect x="63.66" y="93.39" width="0.97" height="6.72" fill="#fbf4b4"/>
<rect x="64.58" y="93.39" width="0.97" height="6.72" fill="#fde497"/>
<rect x="65.50" y="93.39" width="0.97" height="6.72" fill="#fde497"/>
<rect x="66.42" y="93.39" width="0.97" height="6.72" fill="#ffefa9"/>
<rect x="67.34" y="93.39" width="0.97" height="6.72" fill="#fcf3b2"/>
<rect x="68.26" y="93.39" width="0.97" height="6.72" fill="#fdf2ae"/>
<rect x="69.18" y="93.39" width="0.97" height="6.72" fill="#ffeea6"/>
<rect x="70.10" y="93.39" width="0.97" height="6.72" fill="#fde192"/>
<rect x="71.02" y="93.39" width="0.97" height="6.72" fill="#fbd37c"/>
<rect x="71.94" y="93.39" width="0.97" height="6.72" fill="#f8c467"/>
<rect x="72.86" y="93.39" width="0.97" height="6.72" fill="#f7bf5f"/>
<rect x="73.78" y="93.39" width="0.97" height="6.72" fill="#f8bf60"/>
<rect x="74.70" y="93.39" width="0.97" height="6.72" fill="#fcdb89"/>
<rect x="75.62" y="93.39" width="0.97" height="6.72" fill="#fcde8d"/>
<rect x="76.54" y="93.39" width="0.97" height="6.72" fill="#fbd27b"/>
<rect x="77.46" y="93.39" width="0.97" height="6.72" fill="#fde193"/>
<rect x="78.38" y="93.39" width="0.97" height="6.72" fill="#fddf90"/>
<rect x="79.30" y="93.39" width="0.97" height="6.72" fill="#feeba2"/>
<rect x="80.22" y="93.39" width="0.97" height="6.72" fill="#fde498"/>
<rect x="81.14" y="93.39" width="0.97" height="6.72" fill="#fde091"/>
<rect x="82.06" y="93.39" width="0.97" height="6.72" fill="#fad078"/>
<rect x="82.98" y="93.39" width="0.97" height="6.72" fill="#f8c366"/>
<rect x="83.90" y="93.39" width="0.97" height="6.72" fill="#f6b450"/>
<rect x="84.82" y="93.39" width="0.97" height="6.72" fill="#f8c163"/>
<rect x="85.74" y="93.39" width="0.97" height="6.72" fill="#fbd47f"/>
<rect x="86.66" y="93.39" width="0.97" height="6.72" fill="#fbd27b"/>
<rect x="87.58" y="93.39" width="0.97" height="6.72" fill="#facb71"/>
<rect x="88.50" y="93.39" width="0.97" height="6.72" fill="#fbd37c"/>
<rect x="89.42" y="93.39" width="0.97" height="6.72" fill="#fde192"/>
<rect x="90.34" y="93.39" width="0.97" height="6.72" fill="#fbd681"/>
<rect x="91.26" y="93.39" width="0.97" height="6.72" fill="#fad179"/>
<rect x="92.18" y="93.39" width="0.97" height="6.72" fill="#f8c264"/>
<rect x="93.10" y="93.39" width="0.97" height="6.72" fill="#f9c96e"/>
<rect x="94.02" y="93.39" width="0.97" height="6.72" fill="#f9c66a"/>
<rect x="94.94" y="93.39" width="0.97" height="6.72" fill="#f7be5f"/>
<rect x="95.86" y="93.39" width="0.97" height="6.72" fill="#f7ba58"/>
<rect x="96.78" y="93.39" width="0.97" height="6.72" fill="#f5ae47"/>
<rect x="97.70" y="93.39" width="0.97" height="6.72" fill="#f39b2d"/>
<rect x="98.62" y="93.39" width="0.97" height="6.72" fill="#f19024"/>
<rect x="99.54" y="93.39" width="0.97" height="6.72" fill="#eb7d1e"/>
<rect x="100.46" y="93.39" width="0.97" height="6.72" fill="#e6701e"/>
<rect x="101.38" y="93.39" width="0.97" height="6.72" fill="#e6711e"/>
<rect x="102.30" y="93.39" width="0.97" height="6.72" fill="#ef8b23"/>
<rect x="103.22" y="93.39" width="0.97" height="6.72" fill="#f49e32"/>
<rect x="104.14" y="93.39" width="0.97" height="6.72" fill="#f3992a"/>
<rect x="105.06" y="93.39" width="0.97" height="6.72" fill="#f4a338"/>
<rect x="105.98" y="93.39" width="0.97" height="6.72" fill="#f3992a"/>
<rect x="106.90" y="93.39" width="0.97" height="6.72" fill="#f39828"/>
<rect x="107.82" y="93.39" width="0.97" height="6.72" fill="#ec8220"/>
<rect x="108.74" y="93.39" width="0.97" height="6.72" fill="#ed8421"/>
<rect x="109.66" y="93.39" width="0.97" height="6.72" fill="#f39829"/>
<rect x="110.58" y="93.39" width="0.97" height="6.72" fill="#f39626"/>
<rect x="111.50" y="93.39" width="0.97" height="6.72" fill="#eb7d1e"/>
<rect x="112.42" y="93.39" width="0.97" height="6.72" fill="#f4a43a"/>
<rect x="113.34" y="93.39" width="0.97" height="6.72" fill="#f6b552"/>
<rect x="114.26" y="93.39" width="0.97" height="6.72" fill="#f9c669"/>
<rect x="115.18" y="93.39" width="0.97" height="6.72" fill="#fbd27b"/>
<rect x="116.10" y="93.39" width="0.97" height="6.72" fill="#facf76"/>
<rect x="117.02" y="93.39" width="0.97" height="6.72" fill="#f8c265"/>
<rect x="117.94" y="93.39" width="0.97" height="6.72" fill="#f7bd5c"/>
<rect x="118.86" y="93.39" width="0.97" height="6.72" fill="#f7bd5d"/>
<rect x="119.78" y="93.39" width="0.97" height="6.72" fill="#f9c86c"/>
<rect x="120.70" y="93.39" width="0.97" height="6.72" fill="#f7bc5c"/>
<rect x="121.62" y="93.39" width="0.97" height="6.72" fill="#f5ac44"/>
<rect x="122.54" y="93.39" width="0.97" height="6.72" fill="#f49e31"/>
<rect x="123.46" y="93.39" width="0.97" height="6.72" fill="#f39626"/>
<rect x="124.38" y="93.39" width="0.97" height="6.72" fill="#f39728"/>
<rect x="125.30" y="93.39" width="0.97" height="6.72" fill="#f19125"/>
<rect x="126.22" y="93.39" width="0.97" height="6.72" fill="#f49e31"/>
<rect x="127.14" y="93.39" width="0.97" height="6.72" fill="#f4a53b"/>
<rect x="128.06" y="93.39" width="0.97" height="6.72" fill="#f39c2e"/>
<rect x="128.98" y="93.39" width="0.97" height="6.72" fill="#f39a2b"/>
<rect x="129.90" y="93.39" width="0.97" height="6.72" fill="#f4a338"/>
<rect x="130.82" y="93.39" width="0.97" height="6.72" fill="#f5ae47"/>
<rect x="131.74" y="93.39" width="0.97" height="6.72" fill="#f5b14b"/>
<rect x="132.66" y="93.39" width="0.97" height="6.72" fill="#f6b653"/>
<rect x="133.58" y="93.39" width="0.97" height="6.72" fill="#f6b856"/>
<rect x="134.50" y="93.39" width="0.97" height="6.72" fill="#f7bf5f"/>
<rect x="135.42" y="93.39" width="0.97" height="6.72" fill="#f7bb5a"/>
<rect x="136.34" y="93.39" width="0.97" height="6.72" fill="#f7b957"/>
<rect x="137.26" y="93.39" width="0.97" height="6.72" fill="#f6b653"/>
<rect x="138.18" y="93.39" width="0.97" height="6.72" fill="#f7ba59"/>
<rect x="139.10" y="93.39" width="0.97" height="6.72" fill="#f8c163"/>
<rect x="140.02" y="93.39" width="0.97" height="6.72" fill="#facb71"/>
<rect x="140.94" y="93.39" width="0.97" height="6.72" fill="#f8c467"/>
<rect x="141.86" y="93.39" width="0.97" height="6.72" fill="#f8c162"/>
<rect x="142.78" y="93.39" width="0.97" height="6.72" fill="#f9ca6f"/>
<rect x="143.70" y="93.39" width="0.97" height="6.72" fill="#fbd37c"/>
<rect x="144.62" y="93.39" width="0.97" height="6.72" fill="#fddf90"/>
<rect x="145.54" y="93.39" width="0.97" height="6.72" fill="#fde295"/>
<rect x="146.46" y="93.39" width="0.97" height="6.72" fill="#fcd884"/>
<rect x="147.38" y="93.39" width="0.97" height="6.72" fill="#fbd783"/>
<rect x="148.30" y="93.39" width="0.97" height="6.72" fill="#f7bf5f"/>
<rect x="149.22" y="93.39" width="0.97" height="6.72" fill="#f4a53b"/>
<rect x="150.14" y="93.39" width="0.97" height="6.72" fill="#f08c23"/>
<rect x="151.06" y="93.39" width="0.97" height="6.72" fill="#f29425"/>
<rect x="151.98" y="93.39" width="0.97" height="6.72" fill="#f49f32"/>
<rect x="152.90" y="93.39" width="0.97" height="6.72" fill="#f5b14b"/>
<rect x="153.82" y="93.39" width="0.97" height="6.72" fill="#f4a338"/>
<rect x="154.74" y="93.39" width="0.97" height="6.72" fill="#f29425"/>
<rect x="155.66" y="93.39" width="0.97" height="6.72" fill="#e8761c"/>
<rect x="156.58" y="93.39" width="0.97" height="6.72" fill="#eb7d1e"/>
<rect x="157.50" y="93.39" width="0.97" height="6.72" fill="#f29425"/>
<rect x="158.42" y="93.39" width="0.97" height="6.72" fill="#f6b755"/>
<rect x="159.34" y="93.39" width="0.97" height="6.72" fill="#f9ca70"/>
<rect x="160.26" y="93.39" width="0.97" height="6.72" fill="#face75"/>
<rect x="161.18" y="93.39" width="0.97" height="6.72" fill="#facd73"/>
<rect x="162.10" y="93.39" width="0.97" height="6.72" fill="#fbd17a"/>
<rect x="163.02" y="93.39" width="0.97" height="6.72" fill="#fbd57f"/>
<rect x="163.94" y="93.39" width="0.97" height="6.72" fill="#fcd986"/>
<rect x="164.86" y="93.39" width="0.97" height="6.72" fill="#f8c365"/>
<rect x="165.78" y="93.39" width="0.97" height="6.72" fill="#f7ba58"/>
<rect x="166.70" y="93.39" width="0.97" height="6.72" fill="#f9c669"/>
<rect x="167.62" y="93.39" width="0.97" height="6.72" fill="#facc72"/>
<rect x="168.54" y="93.39" width="0.97" height="6.72" fill="#facf76"/>
<rect x="169.46" y="93.39" width="0.97" height="6.72" fill="#fcd884"/>
<rect x="47.10" y="100.06" width="0.97" height="6.72" fill="#facf76"/>
<rect x="48.02" y="100.06" width="0.97" height="6.72" fill="#fcda88"/>
<rect x="48.94" y="100.06" width="0.97" height="6.72" fill="#fcd884"/>
<rect x="49.86" y="100.06" width="0.97" height="6.72" fill="#fbd57f"/>
<rect x="50.78" y="100.06" width="0.97" height="6.72" fill="#fcdc8a"/>
<rect x="51.70" y="100.06" width="0.97" height="6.72" fill="#ffefa8"/>
<rect x="52.62" y="100.06" width="0.97" height="6.72" fill="#f7f4b6"/>
<rect x="53.54" y="100.06" width="0.97" height="6.72" fill="#fdf2af"/>
<rect x="54.46" y="100.06" width="0.97" height="6.72" fill="#ffefa9"/>
<rect x="55.38" y="100.06" width="0.97" height="6.72" fill="#feeca4"/>
<rect x="56.30" y="100.06" width="0.97" height="6.72" fill="#fef1ac"/>
<rect x="57.22" y="100.06" width="0.97" height="6.72" fill="#fde192"/>
<rect x="58.14" y="100.06" width="0.97" height="6.72" fill="#fde396"/>
<rect x="59.06" y="100.06" width="0.97" height="6.72" fill="#fee69a"/>
<rect x="59.98" y="100.06" width="0.97" height="6.72" fill="#fff0ab"/>
<rect x="60.90" y="100.06" width="0.97" height="6.72" fill="#fef1ad"/>
<rect x="61.82" y="100.06" width="0.97" height="6.72" fill="#fcf3b1"/>
<rect x="62.74" y="100.06" width="0.97" height="6.72" fill="#faf5b6"/>
<rect x="63.66" y="100.06" width="0.97" height="6.72" fill="#fdf2b0"/>
<rect x="64.58" y="100.06" width="0.97" height="6.72" fill="#feeaa0"/>
<rect x="65.50" y="100.06" width="0.97" height="6.72" fill="#feeca4"/>
<rect x="66.42" y="100.06" width="0.97" height="6.72" fill="#fef1ab"/>
<rect x="67.34" y="100.06" width="0.97" height="6.72" fill="#fef1ab"/>
<rect x="68.26" y="100.06" width="0.97" height="6.72" fill="#fdf2b0"/>
<rect x="69.18" y="100.06" width="0.97" height="6.72" fill="#fff0ab"/>
<rect x="70.10" y="100.06" width="0.97" height="6.72" fill="#fde497"/>
<rect x="71.02" y="100.06" width="0.97" height="6.72" fill="#facf77"/>
<rect x="71.94" y="100.06" width="0.97" height="6.72" fill="#f9ca70"/>
<rect x="72.86" y="100.06" width="0.97" height="6.72" fill="#f8c163"/>
<rect x="73.78" y="100.06" width="0.97" height="6.72" fill="#f9c66a"/>
<rect x="74.70" y="100.06" width="0.97" height="6.72" fill="#fad078"/>
<rect x="75.62" y="100.06" width="0.97" height="6.72" fill="#fde294"/>
<rect x="76.54" y="100.06" width="0.97" height="6.72" fill="#fbd37d"/>
<rect x="77.46" y="100.06" width="0.97" height="6.72" fill="#fddf8f"/>
<rect x="78.38" y="100.06" width="0.97" height="6.72" fill="#feeca4"/>
<rect x="79.30" y="100.06" width="0.97" height="6.72" fill="#fdf2af"/>
<rect x="80.22" y="100.06" width="0.97" height="6.72" fill="#fee69a"/>
<rect x="81.14" y="100.06" width="0.97" height="6.72" fill="#fcdc8b"/>
<rect x="82.06" y="100.06" width="0.97" height="6.72" fill="#fbd37c"/>
<rect x="82.98" y="100.06" width="0.97" height="6.72" fill="#f9ca70"/>
<rect x="83.90" y="100.06" width="0.97" height="6.72" fill="#f7bd5d"/>
<rect x="84.82" y="100.06" width="0.97" height="6.72" fill="#f8c365"/>
<rect x="85.74" y="100.06" width="0.97" height="6.72" fill="#fbd681"/>
<rect x="86.66" y="100.06" width="0.97" height="6.72" fill="#fbd782"/>
<rect x="87.58" y="100.06" width="0.97" height="6.72" fill="#f9c86d"/>
<rect x="88.50" y="100.06" width="0.97" height="6.72" fill="#f9c96f"/>
<rect x="89.42" y="100.06" width="0.97" height="6.72" fill="#fde193"/>
<rect x="90.34" y="100.06" width="0.97" height="6.72" fill="#fde498"/>
<rect x="91.26" y="100.06" width="0.97" height="6.72" fill="#fbd27b"/>
<rect x="92.18" y="100.06" width="0.97" height="6.72" fill="#f9cb71"/>
<rect x="93.10" y="100.06" width="0.97" height="6.72" fill="#f9c669"/>
<rect x="94.02" y="100.06" width="0.97" height="6.72" fill="#f9c96f"/>
<rect x="94.94" y="100.06" width="0.97" height="6.72" fill="#f7bd5d"/>
<rect x="95.86" y="100.06" width="0.97" height="6.72" fill="#f6b551"/>
<rect x="96.78" y="100.06" width="0.97" height="6.72" fill="#f5ae48"/>
<rect x="97.70" y="100.06" width="0.97" height="6.72" fill="#f5aa41"/>
<rect x="98.62" y="100.06" width="0.97" height="6.72" fill="#f29325"/>
<rect x="99.54" y="100.06" width="0.97" height="6.72" fill="#f19124"/>
<rect x="100.46" y="100.06" width="0.97" height="6.72" fill="#e6701e"/>
<rect x="101.38" y="100.06" width="0.97" height="6.72" fill="#ee8721"/>
<rect x="102.30" y="100.06" width="0.97" height="6.72" fill="#f49e31"/>
<rect x="103.22" y="100.06" width="0.97" height="6.72" fill="#f49e31"/>
<rect x="104.14" y="100.06" width="0.97" height="6.72" fill="#f4a236"/>
<rect x="105.06" y="100.06" width="0.97" height="6.72" fill="#f39728"/>
<rect x="105.98" y="100.06" width="0.97" height="6.72" fill="#f49f33"/>
<rect x="106.90" y="100.06" width="0.97" height="6.72" fill="#f49e32"/>
<rect x="107.82" y="100.06" width="0.97" height="6.72" fill="#f39626"/>
<rect x="108.74" y="100.06" width="0.97" height="6.72" fill="#f19024"/>
<rect x="109.66" y="100.06" width="0.97" height="6.72" fill="#f29426"/>
<rect x="110.58" y="100.06" width="0.97" height="6.72" fill="#ec801f"/>
<rect x="111.50" y="100.06" width="0.97" height="6.72" fill="#f39828"/>
<rect x="112.42" y="100.06" width="0.97" height="6.72" fill="#f4a338"/>
<rect x="113.34" y="100.06" width="0.97" height="6.72" fill="#f7bb5a"/>
<rect x="114.26" y="100.06" width="0.97" height="6.72" fill="#f8c061"/>
<rect x="115.18" y="100.06" width="0.97" height="6.72" fill="#fbd681"/>
<rect x="116.10" y="100.06" width="0.97" height="6.72" fill="#fcda88"/>
<rect x="117.02" y="100.06" width="0.97" height="6.72" fill="#fad079"/>
<rect x="117.94" y="100.06" width="0.97" height="6.72" fill="#f7bd5d"/>
<rect x="118.86" y="100.06" width="0.97" height="6.72" fill="#f7bc5b"/>
<rect x="119.78" y="100.06" width="0.97" height="6.72" fill="#f8c265"/>
<rect x="120.70" y="100.06" width="0.97" height="6.72" fill="#f7bc5c"/>
<rect x="121.62" y="100.06" width="0.97" height="6.72" fill="#f4a53b"/>
<rect x="122.54" y="100.06" width="0.97" height="6.72" fill="#f29325"/>
<rect x="123.46" y="100.06" width="0.97" height="6.72" fill="#f39626"/>
<rect x="124.38" y="100.06" width="0.97" height="6.72" fill="#f39a2c"/>
<rect x="125.30" y="100.06" width="0.97" height="6.72" fill="#f39526"/>
<rect x="126.22" y="100.06" width="0.97" height="6.72" fill="#f49d2f"/>
<rect x="127.14" y="100.06" width="0.97" height="6.72" fill="#f5aa42"/>
<rect x="128.06" y="100.06" width="0.97" height="6.72" fill="#f4a237"/>
<rect x="128.98" y="100.06" width="0.97" height="6.72" fill="#f4a63c"/>
<rect x="129.90" y="100.06" width="0.97" height="6.72" fill="#f4a73d"/>
<rect x="130.82" y="100.06" width="0.97" height="6.72" fill="#f5ae47"/>
<rect x="131.74" y="100.06" width="0.97" height="6.72" fill="#f6b34f"/>
<rect x="132.66" y="100.06" width="0.97" height="6.72" fill="#f7ba58"/>
<rect x="133.58" y="100.06" width="0.97" height="6.72" fill="#f7bb5a"/>
<rect x="134.50" y="100.06" width="0.97" height="6.72" fill="#f7be5e"/>
<rect x="135.42" y="100.06" width="0.97" height="6.72" fill="#f6b450"/>
<rect x="136.34" y="100.06" width="0.97" height="6.72" fill="#f7bd5d"/>
<rect x="137.26" y="100.06" width="0.97" height="6.72" fill="#f6b34f"/>
<rect x="138.18" y="100.06" width="0.97" height="6.72" fill="#f9c569"/>
<rect x="139.10" y="100.06" width="0.97" height="6.72" fill="#f9c96e"/>
<rect x="140.02" y="100.06" width="0.97" height="6.72" fill="#f9c86d"/>
<rect x="140.94" y="100.06" width="0.97" height="6.72" fill="#f8c162"/>
<rect x="141.86" y="100.06" width="0.97" height="6.72" fill="#f8c467"/>
<rect x="142.78" y="100.06" width="0.97" height="6.72" fill="#fad078"/>
<rect x="143.70" y="100.06" width="0.97" height="6.72" fill="#fbd37d"/>
<rect x="144.62" y="100.06" width="0.97" height="6.72" fill="#fcdd8c"/>
<rect x="145.54" y="100.06" width="0.97" height="6.72" fill="#fcdb8a"/>
<rect x="146.46" y="100.06" width="0.97" height="6.72" fill="#fee69a"/>
<rect x="147.38" y="100.06" width="0.97" height="6.72" fill="#fbd681"/>
<rect x="148.30" y="100.06" width="0.97" height="6.72" fill="#f7bc5b"/>
<rect x="149.22" y="100.06" width="0.97" height="6.72" fill="#f5b14b"/>
<rect x="150.14" y="100.06" width="0.97" height="6.72" fill="#f39b2c"/>
<rect x="151.06" y="100.06" width="0.97" height="6.72" fill="#ee8721"/>
<rect x="151.98" y="100.06" width="0.97" height="6.72" fill="#f3992b"/>
<rect x="152.90" y="100.06" width="0.97" height="6.72" fill="#f6b652"/>
<rect x="153.82" y="100.06" width="0.97" height="6.72" fill="#f5ab43"/>
<rect x="154.74" y="100.06" width="0.97" height="6.72" fill="#f49e30"/>
<rect x="155.66" y="100.06" width="0.97" height="6.72" fill="#ea7c1e"/>
<rect x="156.58" y="100.06" width="0.97" height="6.72" fill="#f29425"/>
<rect x="157.50" y="100.06" width="0.97" height="6.72" fill="#f39a2b"/>
<rect x="158.42" y="100.06" width="0.97" height="6.72" fill="#f5ae47"/>
<rect x="159.34" y="100.06" width="0.97" height="6.72" fill="#f9c86d"/>
<rect x="160.26" y="100.06" width="0.97" height="6.72" fill="#fbd681"/>
<rect x="161.18" y="100.06" width="0.97" height="6.72" fill="#face75"/>
<rect x="162.10" y="100.06" width="0.97" height="6.72" fill="#fbd27b"/>
<rect x="163.02" y="100.06" width="0.97" height="6.72" fill="#fcdc8b"/>
<rect x="163.94" y="100.06" width="0.97" height="6.72" fill="#fbd17a"/>
<rect x="164.86" y="100.06" width="0.97" height="6.72" fill="#f9c66a"/>
<rect x="165.78" y="100.06" width="0.97" height="6.72" fill="#f8c467"/>
<rect x="166.70" y="100.06" width="0.97" height="6.72" fill="#fbd37c"/>
<rect x="167.62" y="100.06" width="0.97" height="6.72" fill="#facf77"/>
<rect x="168.54" y="100.06" width="0.97" height="6.72" fill="#fbd17a"/>
<rect x="169.46" y="100.06" width="0.97" height="6.72" fill="#fbd47f"/>
<rect x="170.38" y="100.06" width="0.97" height="6.72" fill="#f9c86c"/>
<rect x="171.30" y="100.06" width="0.97" height="6.72" fill="#facc72"/>
<rect x="172.22" y="100.06" width="0.97" height="6.72" fill="#f7bd5d"/>
<rect x="173.14" y="100.06" width="0.97" height="6.72" fill="#f9c66a"/>
<rect x="174.06" y="100.06" width="0.97" height="6.72" fill="#fad078"/>
<rect x="174.98" y="100.06" width="0.97" height="6.72" fill="#fbd47e"/>
<rect x="175.90" y="100.06" width="0.97" height="6.72" fill="#fbd27c"/>
<rect x="176.82" y="100.06" width="0.97" height="6.72" fill="#fcdc8b"/>
<rect x="177.74" y="100.06" width="0.97" height="6.72" fill="#fde091"/>
<rect x="178.66" y="100.06" width="0.97" height="6.72" fill="#fcda87"/>
<rect x="179.58" y="100.06" width="0.97" height="6.72" fill="#fbd47d"/>
<rect x="180.50" y="100.06" width="0.97" height="6.72" fill="#fcdb89"/>
<rect x="181.42" y="100.06" width="0.97" height="6.72" fill="#fbd681"/>
<rect x="182.34" y="100.06" width="0.97" height="6.72" fill="#face75"/>
<rect x="183.26" y="100.06" width="0.97" height="6.72" fill="#f9c96e"/>
<rect x="184.18" y="100.06" width="0.97" height="6.72" fill="#f9ca6f"/>
<rect x="185.10" y="100.06" width="0.97" height="6.72" fill="#fbd17a"/>
<rect x="186.02" y="100.06" width="0.97" height="6.72" fill="#fcd985"/>
<rect x="186.94" y="100.06" width="0.97" height="6.72" fill="#eaf1b4"/>
<rect x="187.86" y="100.06" width="0.97" height="6.72" fill="#eaf1b4"/>
<rect x="47.10" y="106.73" width="0.97" height="6.72" fill="#e66f1e"/>
<rect x="48.02" y="106.73" width="0.97" height="6.72" fill="#e6711e"/>
<rect x="48.94" y="106.73" width="0.97" height="6.72" fill="#eb7e1f"/>
<rect x="49.86" y="106.73" width="0.97" height="6.72" fill="#e8751c"/>
<rect x="50.78" y="106.73" width="0.97" height="6.72" fill="#e9791d"/>
<rect x="51.70" y="106.73" width="0.97" height="6.72" fill="#f08d23"/>
<rect x="52.62" y="106.73" width="0.97" height="6.72" fill="#f4a236"/>
<rect x="53.54" y="106.73" width="0.97" height="6.72" fill="#f39a2c"/>
<rect x="54.46" y="106.73" width="0.97" height="6.72" fill="#f29425"/>
<rect x="55.38" y="106.73" width="0.97" height="6.72" fill="#f29225"/>
<rect x="56.30" y="106.73" width="0.97" height="6.72" fill="#ef8a22"/>
<rect x="57.22" y="106.73" width="0.97" height="6.72" fill="#eb7f1f"/>
<rect x="58.14" y="106.73" width="0.97" height="6.72" fill="#ee8721"/>
<rect x="59.06" y="106.73" width="0.97" height="6.72" fill="#f29325"/>
<rect x="59.98" y="106.73" width="0.97" height="6.72" fill="#f39829"/>
<rect x="60.90" y="106.73" width="0.97" height="6.72" fill="#f39828"/>
<rect x="61.82" y="106.73" width="0.97" height="6.72" fill="#f39828"/>
<rect x="62.74" y="106.73" width="0.97" height="6.72" fill="#f29425"/>
<rect x="63.66" y="106.73" width="0.97" height="6.72" fill="#f39b2d"/>
<rect x="64.58" y="106.73" width="0.97" height="6.72" fill="#ee8621"/>
<rect x="65.50" y="106.73" width="0.97" height="6.72" fill="#f08d23"/>
<rect x="66.42" y="106.73" width="0.97" height="6.72" fill="#ef8a22"/>
<rect x="67.34" y="106.73" width="0.97" height="6.72" fill="#f39a2b"/>
<rect x="68.26" y="106.73" width="0.97" height="6.72" fill="#f39526"/>
<rect x="69.18" y="106.73" width="0.97" height="6.72" fill="#ef8b23"/>
<rect x="70.10" y="106.73" width="0.97" height="6.72" fill="#ed8421"/>
<rect x="71.02" y="106.73" width="0.97" height="6.72" fill="#e7731d"/>
<rect x="71.94" y="106.73" width="0.97" height="6.72" fill="#e16522"/>
<rect x="72.86" y="106.73" width="0.97" height="6.72" fill="#e16323"/>
<rect x="73.78" y="106.73" width="0.97" height="6.72" fill="#e36821"/>
<rect x="74.70" y="106.73" width="0.97" height="6.72" fill="#e6711e"/>
<rect x="75.62" y="106.73" width="0.97" height="6.72" fill="#f08c23"/>
<rect x="76.54" y="106.73" width="0.97" height="6.72" fill="#e8741c"/>
<rect x="77.46" y="106.73" width="0.97" height="6.72" fill="#eb7f1f"/>
<rect x="78.38" y="106.73" width="0.97" height="6.72" fill="#f08e23"/>
<rect x="79.30" y="106.73" width="0.97" height="6.72" fill="#f19024"/>
<rect x="80.22" y="106.73" width="0.97" height="6.72" fill="#f29225"/>
<rect x="81.14" y="106.73" width="0.97" height="6.72" fill="#eb7e1f"/>
<rect x="82.06" y="106.73" width="0.97" height="6.72" fill="#e6701e"/>
<rect x="82.98" y="106.73" width="0.97" height="6.72" fill="#e26622"/>
<rect x="83.90" y="106.73" width="0.97" height="6.72" fill="#de5b26"/>
<rect x="84.82" y="106.73" width="0.97" height="6.72" fill="#e26622"/>
<rect x="85.74" y="106.73" width="0.97" height="6.72" fill="#e56c1f"/>
<rect x="86.66" y="106.73" width="0.97" height="6.72" fill="#e66f1e"/>
<rect x="87.58" y="106.73" width="0.97" height="6.72" fill="#e06024"/>
<rect x="88.50" y="106.73" width="0.97" height="6.72" fill="#e26721"/>
<rect x="89.42" y="106.73" width="0.97" height="6.72" fill="#e36821"/>
<rect x="90.34" y="106.73" width="0.97" height="6.72" fill="#e46b20"/>
<rect x="91.26" y="106.73" width="0.97" height="6.72" fill="#e06124"/>
<rect x="92.18" y="106.73" width="0.97" height="6.72" fill="#da5329"/>
<rect x="93.10" y="106.73" width="0.97" height="6.72" fill="#dd5927"/>
<rect x="94.02" y="106.73" width="0.97" height="6.72" fill="#db5428"/>
<rect x="94.94" y="106.73" width="0.97" height="6.72" fill="#d24832"/>
<rect x="95.86" y="106.73" width="0.97" height="6.72" fill="#cb4238"/>
<rect x="96.78" y="106.73" width="0.97" height="6.72" fill="#c33941"/>
<rect x="97.70" y="106.73" width="0.97" height="6.72" fill="#c23841"/>
<rect x="98.62" y="106.73" width="0.97" height="6.72" fill="#b0294b"/>
<rect x="99.54" y="106.73" width="0.97" height="6.72" fill="#9e1a55"/>
<rect x="100.46" y="106.73" width="0.97" height="6.72" fill="#9e1a55"/>
<rect x="101.38" y="106.73" width="0.97" height="6.72" fill="#9e1a55"/>
<rect x="102.30" y="106.73" width="0.97" height="6.72" fill="#a72250"/>
<rect x="103.22" y="106.73" width="0.97" height="6.72" fill="#a31e52"/>
<rect x="104.14" y="106.73" width="0.97" height="6.72" fill="#a52051"/>
<rect x="105.06" y="106.73" width="0.97" height="6.72" fill="#9e1a55"/>
<rect x="105.98" y="106.73" width="0.97" height="6.72" fill="#a9234f"/>
<rect x="106.90" y="106.73" width="0.97" height="6.72" fill="#9e1a55"/>
<rect x="107.82" y="106.73" width="0.97" height="6.72" fill="#9e1a55"/>
<rect x="108.74" y="106.73" width="0.97" height="6.72" fill="#9e1a55"/>
<rect x="109.66" y="106.73" width="0.97" height="6.72" fill="#9e1a55"/>
<rect x="110.58" y="106.73" width="0.97" height="6.72" fill="#9f1b54"/>
<rect x="111.50" y="106.73" width="0.97" height="6.72" fill="#a11c53"/>
<rect x="112.42" y="106.73" width="0.97" height="6.72" fill="#a72250"/>
<rect x="113.34" y="106.73" width="0.97" height="6.72" fill="#c73d3d"/>
<rect x="114.26" y="106.73" width="0.97" height="6.72" fill="#d04634"/>
<rect x="115.18" y="106.73" width="0.97" height="6.72" fill="#d84f2b"/>
<rect x="116.10" y="106.73" width="0.97" height="6.72" fill="#db5528"/>
<rect x="117.02" y="106.73" width="0.97" height="6.72" fill="#d44b2f"/>
<rect x="117.94" y="106.73" width="0.97" height="6.72" fill="#cf4634"/>
<rect x="118.86" y="106.73" width="0.97" height="6.72" fill="#d9502a"/>
<rect x="119.78" y="106.73" width="0.97" height="6.72" fill="#dc5628"/>
<rect x="120.70" y="106.73" width="0.97" height="6.72" fill="#d74e2c"/>
<rect x="121.62" y="106.73" width="0.97" height="6.72" fill="#d04634"/>
<rect x="122.54" y="106.73" width="0.97" height="6.72" fill="#c63c3e"/>
<rect x="123.46" y="106.73" width="0.97" height="6.72" fill="#c23941"/>
<rect x="124.38" y="106.73" width="0.97" height="6.72" fill="#c73e3c"/>
<rect x="125.30" y="106.73" width="0.97" height="6.72" fill="#cb4139"/>
<rect x="126.22" y="106.73" width="0.97" height="6.72" fill="#d14832"/>
<rect x="127.14" y="106.73" width="0.97" height="6.72" fill="#cf4535"/>
<rect x="128.06" y="106.73" width="0.97" height="6.72" fill="#d64c2e"/>
<rect x="128.98" y="106.73" width="0.97" height="6.72" fill="#d64d2d"/>
<rect x="129.90" y="106.73" width="0.97" height="6.72" fill="#d54c2e"/>
<rect x="130.82" y="106.73" width="0.97" height="6.72" fill="#d94f2b"/>
<rect x="131.74" y="106.73" width="0.97" height="6.72" fill="#dc5727"/>
<rect x="132.66" y="106.73" width="0.97" height="6.72" fill="#dd5b26"/>
<rect x="133.58" y="106.73" width="0.97" height="6.72" fill="#dc5727"/>
<rect x="134.50" y="106.73" width="0.97" height="6.72" fill="#e16323"/>
<rect x="135.42" y="106.73" width="0.97" height="6.72" fill="#df5e25"/>
<rect x="136.34" y="106.73" width="0.97" height="6.72" fill="#df5f24"/>
<rect x="137.26" y="106.73" width="0.97" height="6.72" fill="#dc5727"/>
<rect x="138.18" y="106.73" width="0.97" height="6.72" fill="#df6024"/>
<rect x="139.10" y="106.73" width="0.97" height="6.72" fill="#e06223"/>
<rect x="140.02" y="106.73" width="0.97" height="6.72" fill="#e26721"/>
<rect x="140.94" y="106.73" width="0.97" height="6.72" fill="#e46a20"/>
<rect x="141.86" y="106.73" width="0.97" height="6.72" fill="#e06024"/>
<rect x="142.78" y="106.73" width="0.97" height="6.72" fill="#e46c1f"/>
<rect x="143.70" y="106.73" width="0.97" height="6.72" fill="#e8761c"/>
<rect x="144.62" y="106.73" width="0.97" height="6.72" fill="#eb7e1f"/>
<rect x="145.54" y="106.73" width="0.97" height="6.72" fill="#ef8922"/>
<rect x="146.46" y="106.73" width="0.97" height="6.72" fill="#e9791d"/>
<rect x="147.38" y="106.73" width="0.97" height="6.72" fill="#e8751c"/>
<rect x="148.30" y="106.73" width="0.97" height="6.72" fill="#e26522"/>
<rect x="149.22" y="106.73" width="0.97" height="6.72" fill="#db5528"/>
<rect x="150.14" y="106.73" width="0.97" height="6.72" fill="#ce4535"/>
<rect x="151.06" y="106.73" width="0.97" height="6.72" fill="#cb4238"/>
<rect x="151.98" y="106.73" width="0.97" height="6.72" fill="#d24832"/>
<rect x="152.90" y="106.73" width="0.97" height="6.72" fill="#db5528"/>
<rect x="153.82" y="106.73" width="0.97" height="6.72" fill="#d84f2b"/>
<rect x="154.74" y="106.73" width="0.97" height="6.72" fill="#d04733"/>
<rect x="155.66" y="106.73" width="0.97" height="6.72" fill="#ca403a"/>
<rect x="156.58" y="106.73" width="0.97" height="6.72" fill="#ca403a"/>
<rect x="157.50" y="106.73" width="0.97" height="6.72" fill="#d54c2e"/>
<rect x="158.42" y="106.73" width="0.97" height="6.72" fill="#de5b26"/>
<rect x="159.34" y="106.73" width="0.97" height="6.72" fill="#e26721"/>
<rect x="160.26" y="106.73" width="0.97" height="6.72" fill="#e56f1e"/>
<rect x="161.18" y="106.73" width="0.97" height="6.72" fill="#e9771d"/>
<rect x="162.10" y="106.73" width="0.97" height="6.72" fill="#e9791d"/>
<rect x="163.02" y="106.73" width="0.97" height="6.72" fill="#ea7b1e"/>
<rect x="163.94" y="106.73" width="0.97" height="6.72" fill="#e56d1f"/>
<rect x="164.86" y="106.73" width="0.97" height="6.72" fill="#e16423"/>
<rect x="165.78" y="106.73" width="0.97" height="6.72" fill="#e36920"/>
<rect x="166.70" y="106.73" width="0.97" height="6.72" fill="#e6701e"/>
<rect x="167.62" y="106.73" width="0.97" height="6.72" fill="#e7721d"/>
<rect x="168.54" y="106.73" width="0.97" height="6.72" fill="#e6711e"/>
<rect x="169.46" y="106.73" width="0.97" height="6.72" fill="#e9791d"/>
<rect x="170.38" y="106.73" width="0.97" height="6.72" fill="#f29225"/>
<rect x="171.30" y="106.73" width="0.97" height="6.72" fill="#ec801f"/>
<rect x="172.22" y="106.73" width="0.97" height="6.72" fill="#eb7d1e"/>
<rect x="173.14" y="106.73" width="0.97" height="6.72" fill="#f08e23"/>
<rect x="174.06" y="106.73" width="0.97" height="6.72" fill="#f4a135"/>
<rect x="174.98" y="106.73" width="0.97" height="6.72" fill="#f4a338"/>
<rect x="175.90" y="106.73" width="0.97" height="6.72" fill="#f39c2f"/>
<rect x="176.82" y="106.73" width="0.97" height="6.72" fill="#f5af49"/>
<rect x="177.74" y="106.73" width="0.97" height="6.72" fill="#f5ae47"/>
<rect x="178.66" y="106.73" width="0.97" height="6.72" fill="#f4a63c"/>
<rect x="179.58" y="106.73" width="0.97" height="6.72" fill="#f4a53b"/>
<rect x="180.50" y="106.73" width="0.97" height="6.72" fill="#f4a940"/>
<rect x="181.42" y="106.73" width="0.97" height="6.72" fill="#f4a73d"/>
<rect x="182.34" y="106.73" width="0.97" height="6.72" fill="#f39c2f"/>
<rect x="183.26" y="106.73" width="0.97" height="6.72" fill="#f19125"/>
<rect x="184.18" y="106.73" width="0.97" height="6.72" fill="#f19024"/>
<rect x="185.10" y="106.73" width="0.97" height="6.72" fill="#f49f33"/>
<rect x="186.02" y="106.73" width="0.97" height="6.72" fill="#f5ab43"/>
<rect x="186.94" y="106.73" width="0.97" height="6.72" fill="#f4a034"/>
<rect x="187.86" y="106.73" width="0.97" height="6.72" fill="#f29325"/>
<rect x="188.78" y="106.73" width="0.97" height="6.72" fill="#ec801f"/>
</g>
<rect x="41.00" y="66.70" width="155.40" height="46.70" fill="none" stroke="#262626" stroke-width="0.95"/>
<line x1="39.30" y1="70.04" x2="41.00" y2="70.04" stroke="#262626" stroke-width="0.6"/>
<text x="37.40" y="72.54" font-size="5.2" fill="#4d4d4d" text-anchor="end">Wx - Ridge</text>
<line x1="39.30" y1="76.71" x2="41.00" y2="76.71" stroke="#262626" stroke-width="0.6"/>
<text x="37.40" y="79.21" font-size="5.2" fill="#4d4d4d" text-anchor="end">Site 4</text>
<line x1="39.30" y1="83.38" x2="41.00" y2="83.38" stroke="#262626" stroke-width="0.6"/>
<text x="37.40" y="85.88" font-size="5.2" fill="#4d4d4d" text-anchor="end">Site 3</text>
<line x1="39.30" y1="90.05" x2="41.00" y2="90.05" stroke="#262626" stroke-width="0.6"/>
<text x="37.40" y="92.55" font-size="5.2" fill="#4d4d4d" text-anchor="end">Site 2</text>
<line x1="39.30" y1="96.72" x2="41.00" y2="96.72" stroke="#262626" stroke-width="0.6"/>
<text x="37.40" y="99.22" font-size="5.2" fill="#4d4d4d" text-anchor="end">Wx - Forefield</text>
<line x1="39.30" y1="103.39" x2="41.00" y2="103.39" stroke="#262626" stroke-width="0.6"/>
<text x="37.40" y="105.89" font-size="5.2" fill="#4d4d4d" text-anchor="end">Site 1</text>
<line x1="39.30" y1="110.06" x2="41.00" y2="110.06" stroke="#262626" stroke-width="0.6"/>
<text x="37.40" y="112.56" font-size="5.2" fill="#4d4d4d" text-anchor="end">ECCC</text>
<line x1="66.80" y1="113.40" x2="66.80" y2="115.10" stroke="#262626" stroke-width="0.6"/>
<text x="66.80" y="121.00" font-size="5.2" fill="#4d4d4d" text-anchor="middle">Jun</text>
<line x1="94.40" y1="113.40" x2="94.40" y2="115.10" stroke="#262626" stroke-width="0.6"/>
<text x="94.40" y="121.00" font-size="5.2" fill="#4d4d4d" text-anchor="middle">Jul</text>
<line x1="122.90" y1="113.40" x2="122.90" y2="115.10" stroke="#262626" stroke-width="0.6"/>
<text x="122.90" y="121.00" font-size="5.2" fill="#4d4d4d" text-anchor="middle">Aug</text>
<line x1="151.40" y1="113.40" x2="151.40" y2="115.10" stroke="#262626" stroke-width="0.6"/>
<text x="151.40" y="121.00" font-size="5.2" fill="#4d4d4d" text-anchor="middle">Sep</text>
<line x1="179.00" y1="113.40" x2="179.00" y2="115.10" stroke="#262626" stroke-width="0.6"/>
<text x="179.00" y="121.00" font-size="5.2" fill="#4d4d4d" text-anchor="middle">Oct</text>
<text x="40.70" y="61.20" font-size="7.8" fill="#000" text-anchor="start" font-weight="bold">A</text>
<defs><linearGradient id="cb" x1="0" y1="1" x2="0" y2="0">
<stop offset="0.16%" stop-color="rgb(48,45,122)"/>
<stop offset="2.10%" stop-color="rgb(42,74,144)"/>
<stop offset="3.72%" stop-color="rgb(42,95,155)"/>
<stop offset="5.65%" stop-color="rgb(42,130,165)"/>
<stop offset="8.56%" stop-color="rgb(79,181,165)"/>
<stop offset="11.47%" stop-color="rgb(150,215,170)"/>
<stop offset="13.41%" stop-color="rgb(197,232,176)"/>
<stop offset="17.61%" stop-color="rgb(250,245,182)"/>
<stop offset="21.49%" stop-color="rgb(255,240,170)"/>
<stop offset="32.47%" stop-color="rgb(251,212,126)"/>
<stop offset="48.63%" stop-color="rgb(245,176,74)"/>
<stop offset="58.32%" stop-color="rgb(243,150,38)"/>
<stop offset="64.78%" stop-color="rgb(232,117,28)"/>
<stop offset="77.71%" stop-color="rgb(217,80,42)"/>
<stop offset="87.40%" stop-color="rgb(196,58,64)"/>
<stop offset="97.09%" stop-color="rgb(158,26,85)"/>
</linearGradient></defs>
<rect x="235.5" y="46.9" width="7.60" height="102.90" fill="url(#cb)"/>
<line x1="235.5" y1="49.89" x2="237.0" y2="49.89" stroke="#333" stroke-width="0.4"/>
<line x1="241.6" y1="49.89" x2="243.1" y2="49.89" stroke="#333" stroke-width="0.4"/>
<text x="246.30" y="51.79" font-size="5.2" fill="#000" text-anchor="start">25</text>
<line x1="235.5" y1="83.14" x2="237.0" y2="83.14" stroke="#333" stroke-width="0.4"/>
<line x1="241.6" y1="83.14" x2="243.1" y2="83.14" stroke="#333" stroke-width="0.4"/>
<text x="246.30" y="85.04" font-size="5.2" fill="#000" text-anchor="start">15</text>
<line x1="235.5" y1="116.39" x2="237.0" y2="116.39" stroke="#333" stroke-width="0.4"/>
<line x1="241.6" y1="116.39" x2="243.1" y2="116.39" stroke="#333" stroke-width="0.4"/>
<text x="246.30" y="118.29" font-size="5.2" fill="#000" text-anchor="start">5</text>
<text x="246.30" y="151.53" font-size="5.2" fill="#000" text-anchor="start">-5</text>
<text x="235.30" y="35.30" font-size="6.65" fill="#000" text-anchor="start">Mean Daily Air</text>
<text x="235.30" y="42.90" font-size="6.65" fill="#000" text-anchor="start">Temperature (°C)</text>
<polyline points="47.1,214.1 189.2,293.1" fill="none" stroke="#ff3b30" stroke-width="1.0" stroke-linejoin="round"/>
<polyline points="47.1,210.2 189.2,277.5" fill="none" stroke="#222" stroke-width="0.9" stroke-dasharray="1.0,1.2" stroke-linejoin="round"/>
<polyline points="47.1,171.3 189.2,230.7" fill="none" stroke="#2222ee" stroke-width="0.9" stroke-dasharray="2.6,1.8" stroke-linejoin="round"/>
<polyline points="47.1,274.7 189.2,188.4" fill="none" stroke="#a020f0" stroke-width="0.9" stroke-dasharray="3,2" stroke-linejoin="round"/>
<polyline points="47.1,252.9 49.4,252.2 51.8,251.5 54.2,250.8 56.5,250.1 58.9,249.4 61.3,248.6 63.6,247.8 66.0,247.0 68.4,246.1 70.8,245.3 73.1,244.4 75.5,243.5 77.9,242.5 80.2,241.6 82.6,240.6 85.0,239.6 87.3,238.6 89.7,237.5 92.1,236.4 94.5,235.3 96.8,234.2 99.2,233.1 101.6,231.9 103.9,230.7 106.3,229.5 108.7,228.2 111.0,227.0 113.4,225.7 115.8,224.4 118.1,223.0 120.5,221.7 122.9,220.3 125.3,218.9 127.6,217.5 130.0,216.0 132.4,214.5 134.7,213.0 137.1,211.5 139.5,210.0 141.8,208.4 144.2,206.8 146.6,205.2 148.9,203.5 151.3,201.9 153.7,200.2 156.1,198.5 158.4,196.7 160.8,195.0 163.2,193.2 165.5,191.4 167.9,189.6 170.3,187.7 172.6,185.8 175.0,183.9 177.4,182.0 179.7,180.1 182.1,178.1 184.5,176.1 186.9,174.1 189.2,172.1" fill="none" stroke="#ffa040" stroke-width="0.95" stroke-dasharray="1.1,1.7" stroke-linejoin="round"/>
<polyline points="47.1,267.5 49.4,267.0 51.8,266.5 54.2,266.0 56.5,265.4 58.9,264.7 61.3,264.0 63.6,263.3 66.0,262.5 68.4,261.6 70.7,260.7 73.1,259.8 75.5,258.8 77.8,257.7 80.2,256.6 82.5,255.4 84.9,254.2 87.3,253.0 89.6,251.6 92.0,250.3 94.4,248.8 96.7,247.4 99.1,245.8 101.5,244.3 103.8,242.6 106.2,241.0 108.6,239.2 110.9,237.4 113.3,235.6 115.7,233.7 118.0,231.8 120.4,229.8 122.8,227.8 125.1,225.7 127.5,223.5 129.9,221.3 132.2,219.1 134.6,216.8 137.0,214.4 139.3,212.0 141.7,209.6 144.1,207.1 146.4,204.5 148.8,201.9 151.2,199.3 153.5,196.6 155.9,193.8 158.3,191.0 160.6,188.1 163.0,185.2 165.3,182.2 167.7,179.2 170.1,176.1 172.4,173.0 174.8,169.8 177.2,166.6 179.5,163.3 181.9,160.0 184.3,156.6 186.6,153.2 189.0,149.7" fill="none" stroke="#22dd22" stroke-width="0.8" stroke-dasharray="3,1.7,0.8,1.7" stroke-linejoin="round"/>
<polygon points="55.60,260.62 52.40,266.28 58.80,266.28" fill="none" stroke="#222" stroke-width="0.6"/>
<path d="M67.10,268.40H73.50M70.30,265.20V271.60" stroke="#222" stroke-width="0.6" fill="none"/>
<path d="M83.40,247.80L88.00,252.40M83.40,252.40L88.00,247.80" stroke="#222" stroke-width="0.6" fill="none"/>
<polygon points="125.00,223.80 128.20,227.00 125.00,230.20 121.80,227.00" fill="none" stroke="#222" stroke-width="0.6"/>
<polygon points="61.40,212.28 58.20,206.62 64.60,206.62" fill="none" stroke="#222" stroke-width="0.6"/>
<rect x="155.20" y="191.00" width="4.60" height="4.60" fill="none" stroke="#222" stroke-width="0.75"/>
<path d="M155.20,191.00L159.80,195.60M155.20,195.60L159.80,191.00" stroke="#222" stroke-width="0.75" fill="none"/>
<rect x="40.30" y="141.30" width="156.10" height="159.30" fill="none" stroke="#262626" stroke-width="0.95"/>
<line x1="38.60" y1="295.54" x2="40.30" y2="295.54" stroke="#262626" stroke-width="0.6"/>
<text x="37.30" y="297.64" font-size="5.2" fill="#4d4d4d" text-anchor="end">9</text>
<line x1="38.60" y1="276.91" x2="40.30" y2="276.91" stroke="#262626" stroke-width="0.6"/>
<text x="37.30" y="279.01" font-size="5.2" fill="#4d4d4d" text-anchor="end">10</text>
<line x1="38.60" y1="258.28" x2="40.30" y2="258.28" stroke="#262626" stroke-width="0.6"/>
<text x="37.30" y="260.38" font-size="5.2" fill="#4d4d4d" text-anchor="end">11</text>
<line x1="38.60" y1="239.65" x2="40.30" y2="239.65" stroke="#262626" stroke-width="0.6"/>
<text x="37.30" y="241.75" font-size="5.2" fill="#4d4d4d" text-anchor="end">12</text>
<line x1="38.60" y1="221.02" x2="40.30" y2="221.02" stroke="#262626" stroke-width="0.6"/>
<text x="37.30" y="223.12" font-size="5.2" fill="#4d4d4d" text-anchor="end">13</text>
<line x1="38.60" y1="202.39" x2="40.30" y2="202.39" stroke="#262626" stroke-width="0.6"/>
<text x="37.30" y="204.49" font-size="5.2" fill="#4d4d4d" text-anchor="end">14</text>
<line x1="38.60" y1="183.76" x2="40.30" y2="183.76" stroke="#262626" stroke-width="0.6"/>
<text x="37.30" y="185.86" font-size="5.2" fill="#4d4d4d" text-anchor="end">15</text>
<line x1="38.60" y1="165.13" x2="40.30" y2="165.13" stroke="#262626" stroke-width="0.6"/>
<text x="37.30" y="167.23" font-size="5.2" fill="#4d4d4d" text-anchor="end">16</text>
<line x1="38.60" y1="146.50" x2="40.30" y2="146.50" stroke="#262626" stroke-width="0.6"/>
<text x="37.30" y="148.60" font-size="5.2" fill="#4d4d4d" text-anchor="end">17</text>
<line x1="47.50" y1="300.60" x2="47.50" y2="302.30" stroke="#262626" stroke-width="0.6"/>
<text x="47.50" y="308.20" font-size="5.2" fill="#4d4d4d" text-anchor="middle">1800</text>
<line x1="69.27" y1="300.60" x2="69.27" y2="302.30" stroke="#262626" stroke-width="0.6"/>
<text x="69.27" y="308.20" font-size="5.2" fill="#4d4d4d" text-anchor="middle">1900</text>
<line x1="91.04" y1="300.60" x2="91.04" y2="302.30" stroke="#262626" stroke-width="0.6"/>
<text x="91.04" y="308.20" font-size="5.2" fill="#4d4d4d" text-anchor="middle">2000</text>
<line x1="112.81" y1="300.60" x2="112.81" y2="302.30" stroke="#262626" stroke-width="0.6"/>
<text x="112.81" y="308.20" font-size="5.2" fill="#4d4d4d" text-anchor="middle">2100</text>
<line x1="134.58" y1="300.60" x2="134.58" y2="302.30" stroke="#262626" stroke-width="0.6"/>
<text x="134.58" y="308.20" font-size="5.2" fill="#4d4d4d" text-anchor="middle">2200</text>
<line x1="156.35" y1="300.60" x2="156.35" y2="302.30" stroke="#262626" stroke-width="0.6"/>
<text x="156.35" y="308.20" font-size="5.2" fill="#4d4d4d" text-anchor="middle">2300</text>
<line x1="178.12" y1="300.60" x2="178.12" y2="302.30" stroke="#262626" stroke-width="0.6"/>
<text x="178.12" y="308.20" font-size="5.2" fill="#4d4d4d" text-anchor="middle">2400</text>
<text x="118.35" y="316.80" font-size="6.65" fill="#000" text-anchor="middle">Elevation (m.a.s.l.)</text>
<text x="27.10" y="220.95" font-size="6.65" fill="#000" text-anchor="middle" transform="rotate(-90 27.10 220.95)">Air Temperature (°C)</text>
<text x="40.00" y="135.40" font-size="7.8" fill="#000" text-anchor="start" font-weight="bold">C</text>
<text x="206.80" y="161.00" font-size="6.65" fill="#000" text-anchor="start">LR Model</text>
<line x1="207.2" y1="169.00" x2="213.2" y2="169.00" stroke="#ff7b75" stroke-width="1.4"/>
<text x="217.70" y="170.80" font-size="5.2" fill="#000" text-anchor="start">1. Normal LR (ECCC with -6.5 C/km)</text>
<line x1="207.2" y1="177.27" x2="213.2" y2="177.27" stroke="#222" stroke-width="0.8" stroke-dasharray="0.9,1.1"/>
<text x="217.70" y="179.07" font-size="5.2" fill="#000" text-anchor="start">2. All Stations (Linear fit)</text>
<line x1="207.2" y1="185.54" x2="213.2" y2="185.54" stroke="#2222ee" stroke-width="0.8" stroke-dasharray="2.2,1.4"/>
<text x="217.70" y="187.34" font-size="5.2" fill="#000" text-anchor="start">3. Off Glacier (Linear fit)</text>
<line x1="207.2" y1="193.81" x2="213.2" y2="193.81" stroke="#a020f0" stroke-width="0.8" stroke-dasharray="2.2,1.4"/>
<text x="217.70" y="195.61" font-size="5.2" fill="#000" text-anchor="start">4. On Glacier (Linear fit)</text>
<line x1="207.2" y1="202.08" x2="213.2" y2="202.08" stroke="#ffa54a" stroke-width="0.8" stroke-dasharray="0.9,1.4"/>
<text x="217.70" y="203.88" font-size="5.2" fill="#000" text-anchor="start">5. Upper Stations (2nd Order Polynomial)</text>
<line x1="207.2" y1="210.35" x2="213.2" y2="210.35" stroke="#22dd22" stroke-width="0.8" stroke-dasharray="2.2,1.2,0.8,1.2"/>
<text x="217.70" y="212.15" font-size="5.2" fill="#000" text-anchor="start">6. On Glacier (2nd Order Polynomial)</text>
<text x="206.70" y="232.60" font-size="6.65" fill="#000" text-anchor="start">Station</text>
<polygon points="210.40,237.85 207.40,243.16 213.40,243.16" fill="none" stroke="#222" stroke-width="0.6"/>
<text x="217.80" y="242.70" font-size="5.2" fill="#000" text-anchor="start">Site 1</text>
<path d="M207.40,249.20H213.40M210.40,246.20V252.20" stroke="#222" stroke-width="0.6" fill="none"/>
<text x="217.80" y="251.00" font-size="5.2" fill="#000" text-anchor="start">Site 2</text>
<path d="M208.20,255.30L212.60,259.70M208.20,259.70L212.60,255.30" stroke="#222" stroke-width="0.6" fill="none"/>
<text x="217.80" y="259.30" font-size="5.2" fill="#000" text-anchor="start">Site 3</text>
<polygon points="210.40,262.70 213.50,265.80 210.40,268.90 207.30,265.80" fill="none" stroke="#222" stroke-width="0.6"/>
<text x="217.80" y="267.60" font-size="5.2" fill="#000" text-anchor="start">Site 4</text>
<polygon points="210.40,277.35 207.40,272.04 213.40,272.04" fill="none" stroke="#222" stroke-width="0.6"/>
<text x="217.80" y="275.90" font-size="5.2" fill="#000" text-anchor="start">Wx - Forefield</text>
<rect x="208.20" y="280.20" width="4.40" height="4.40" fill="none" stroke="#222" stroke-width="0.6"/>
<path d="M208.20,280.20L212.60,284.60M208.20,284.60L212.60,280.20" stroke="#222" stroke-width="0.6" fill="none"/>
<text x="217.80" y="284.20" font-size="5.2" fill="#000" text-anchor="start">Wx - Ridge</text>
<line x1="338.7" y1="38.3" x2="494.6" y2="38.3" stroke="#999" stroke-width="0.5" stroke-dasharray="2,1.6"/>
<line x1="345.7" y1="51.2" x2="487.7" y2="51.2" stroke="#ff7a75" stroke-width="1.5"/>
<polyline points="345.7,51.8 346.6,55.9 347.6,53.6 348.5,56.9 349.4,55.9 350.3,55.8 351.2,52.8 352.2,51.5 353.1,48.7 354.0,49.4 354.9,53.1 355.8,51.5 356.8,53.5 357.7,54.4 358.6,56.1 359.5,52.8 360.4,56.4 361.4,56.9 362.3,61.9 363.2,63.4 364.1,47.1 365.0,51.4 366.0,53.0 366.9,56.4 367.8,55.7 368.7,50.9 369.6,49.0 370.6,46.1 371.5,50.4 372.4,53.3 373.3,52.2 374.2,50.9 375.2,45.2 376.1,46.7 377.0,48.9 377.9,52.6 378.8,49.6 379.8,45.1 380.7,45.4 381.6,43.2 382.5,47.9 383.4,48.2 384.4,45.1 385.3,48.1 386.2,48.6 387.1,39.5 388.0,38.7 389.0,46.9 389.9,37.8 390.8,49.4 391.7,54.1 392.6,57.5 393.6,52.9 394.5,49.4 395.4,47.6 396.3,41.5 397.2,38.6 398.2,34.1 399.1,28.3 400.0,26.9 400.9,40.4 401.8,45.1 402.8,51.8 403.7,49.1 404.6,44.4 405.5,45.5 406.4,44.2 407.4,37.9 408.3,32.2 409.2,32.4 410.1,26.7 411.0,28.4 412.0,34.6 412.9,40.4 413.8,44.5 414.7,43.4 415.6,40.0 416.6,40.3 417.5,47.8 418.4,49.0 419.3,46.9 420.2,40.3 421.2,32.1 422.1,40.9 423.0,42.4 423.9,38.6 424.8,44.3 425.8,44.6 426.7,44.3 427.6,42.7 428.5,44.1 429.4,43.3 430.4,42.1 431.3,46.3 432.2,45.1 433.1,47.5 434.0,46.7 435.0,43.7 435.9,48.4 436.8,46.7 437.7,49.9 438.6,49.1 439.6,49.0 440.5,48.4 441.4,50.7 442.3,51.6 443.2,53.6 444.2,56.3 445.1,53.4 446.0,48.9 446.9,46.8 447.8,44.9 448.8,38.8 449.7,38.5 450.6,44.8 451.5,42.8 452.4,37.5 453.4,39.0 454.3,41.3 455.2,41.5 456.1,46.8 457.0,48.8 458.0,49.8 458.9,49.0 459.8,52.8 460.7,55.6 461.6,54.1 462.6,47.9 463.5,33.4 464.4,41.8 465.3,45.7 466.2,50.7 467.2,49.5 468.1,52.0 469.0,55.9 469.9,52.8 470.8,54.7 471.8,49.9 472.7,54.2 473.6,55.9 474.5,39.6 475.4,47.0 476.4,56.8 477.3,51.1 478.2,54.7 479.1,39.1 480.0,50.3 481.0,52.9 481.9,50.0 482.8,51.7 483.7,52.7 484.6,42.3 485.6,34.7 486.5,30.5 487.4,38.0" fill="none" stroke="#9a14f5" stroke-width="1.0" stroke-dasharray="2.4,1.4" stroke-linejoin="round"/>
<polyline points="345.7,49.6 346.6,52.0 347.6,51.1 348.5,51.5 349.4,51.3 350.3,50.6 351.2,50.1 352.2,50.3 353.1,50.3 354.0,51.1 354.9,51.1 355.8,50.0 356.8,51.3 357.7,50.4 358.6,50.9 359.5,51.2 360.4,49.6 361.4,50.1 362.3,50.7 363.2,50.7 364.1,50.8 365.0,50.8 366.0,51.0 366.9,50.2 367.8,51.0 368.7,49.6 369.6,48.9 370.6,49.8 371.5,50.2 372.4,50.7 373.3,51.7 374.2,50.9 375.2,50.4 376.1,51.5 377.0,50.2 377.9,50.5 378.8,50.0 379.8,50.1 380.7,49.8 381.6,51.0 382.5,50.5 383.4,49.6 384.4,50.6 385.3,50.2 386.2,49.7 387.1,49.4 388.0,50.5 389.0,51.6 389.9,50.4 390.8,51.1 391.7,51.0 392.6,51.5 393.6,51.5 394.5,50.1 395.4,49.3 396.3,49.1 397.2,49.7 398.2,48.1 399.1,49.1 400.0,49.7 400.9,50.9 401.8,50.6 402.8,49.2 403.7,50.5 404.6,50.0 405.5,49.6 406.4,48.2 407.4,49.2 408.3,50.3 409.2,50.3 410.1,47.8 411.0,47.6 412.0,50.2 412.9,51.8 413.8,51.4 414.7,51.1 415.6,50.4 416.6,50.2 417.5,49.1 418.4,49.5 419.3,48.3 420.2,47.8 421.2,47.9 422.1,46.7 423.0,46.4 423.9,47.6 424.8,47.6 425.8,47.6 426.7,46.3 427.6,46.7 428.5,46.4 429.4,46.5 430.4,47.0 431.3,47.2 432.2,47.5 433.1,48.1 434.0,49.3 435.0,50.2 435.9,49.2 436.8,49.2 437.7,50.2 438.6,49.1 439.6,48.4 440.5,47.7 441.4,47.7 442.3,47.5 443.2,49.3 444.2,50.2 445.1,48.4 446.0,45.9 446.9,43.8 447.8,44.6 448.8,43.1 449.7,42.6 450.6,45.2 451.5,47.5 452.4,43.4 453.4,41.2 454.3,39.7 455.2,41.8 456.1,43.8 457.0,48.1 458.0,49.4 458.9,50.6 459.8,50.3 460.7,49.6 461.6,50.4 462.6,47.4 463.5,44.8 464.4,44.8 465.3,47.1 466.2,48.7 467.2,48.9 468.1,46.5 469.0,49.0 469.9,51.0 470.8,49.0 471.8,48.6 472.7,48.2 473.6,45.8 474.5,49.2 475.4,47.6 476.4,49.1 477.3,50.5 478.2,47.8 479.1,49.8 480.0,48.1 481.0,46.0 481.9,48.7 482.8,45.5 483.7,45.8 484.6,47.5 485.6,44.5 486.5,41.3" fill="none" stroke="#2222ee" stroke-width="0.6" stroke-dasharray="2.2,1.4" stroke-linejoin="round"/>
<polyline points="345.7,49.8 346.6,52.2 347.6,51.3 348.5,51.7 349.4,51.5 350.3,50.8 351.2,50.3 352.2,50.5 353.1,50.5 354.0,51.3 354.9,51.3 355.8,50.2 356.8,51.5 357.7,50.6 358.6,51.1 359.5,51.4 360.4,49.8 361.4,50.3 362.3,50.9 363.2,50.9 364.1,51.0 365.0,51.0 366.0,51.2 366.9,50.4 367.8,51.2 368.7,49.8 369.6,49.1 370.6,50.0 371.5,50.4 372.4,50.9 373.3,51.9 374.2,51.1 375.2,50.6 376.1,51.7 377.0,50.4 377.9,50.7 378.8,50.2 379.8,50.3 380.7,50.0 381.6,51.2 382.5,50.7 383.4,49.8 384.4,50.8 385.3,50.4 386.2,49.9 387.1,49.6 388.0,50.7 389.0,51.8 389.9,50.6 390.8,51.3 391.7,51.2 392.6,51.7 393.6,51.7 394.5,50.3 395.4,49.5 396.3,49.3 397.2,49.9 398.2,48.3 399.1,49.3 400.0,49.9 400.9,51.1 401.8,50.8 402.8,49.4 403.7,50.7 404.6,50.2 405.5,49.8 406.4,48.4 407.4,49.4 408.3,50.5 409.2,50.5 410.1,48.0 411.0,47.8 412.0,50.4 412.9,52.0 413.8,51.6 414.7,51.3 415.6,50.6 416.6,50.4 417.5,49.3 418.4,49.7 419.3,48.5 420.2,48.0 421.2,48.1 422.1,46.9 423.0,46.6 423.9,47.8 424.8,47.8 425.8,47.8 426.7,46.5 427.6,46.9 428.5,46.6 429.4,46.7 430.4,47.2 431.3,47.4 432.2,47.7 433.1,48.3 434.0,49.5 435.0,50.4 435.9,49.4 436.8,49.4 437.7,50.4 438.6,49.3 439.6,48.6 440.5,47.9 441.4,47.9 442.3,47.7 443.2,49.5 444.2,50.4 445.1,48.6 446.0,46.1 446.9,44.0 447.8,44.8 448.8,43.3 449.7,42.8 450.6,45.4 451.5,47.7 452.4,43.6 453.4,41.4 454.3,39.9 455.2,42.0 456.1,44.0 457.0,48.3 458.0,49.6 458.9,50.8 459.8,50.5 460.7,49.8 461.6,50.6 462.6,47.6 463.5,45.0 464.4,45.0 465.3,47.3 466.2,48.9 467.2,49.1 468.1,46.7 469.0,49.2 469.9,51.2 470.8,49.2 471.8,48.8 472.7,48.4 473.6,46.0 474.5,49.4 475.4,47.8 476.4,49.3 477.3,50.7 478.2,48.0 479.1,50.0 480.0,48.3 481.0,46.2 481.9,48.9 482.8,45.7 483.7,46.0 484.6,47.7 485.6,44.7 486.5,41.5" fill="none" stroke="#111" stroke-width="0.7" stroke-linejoin="round"/>
<rect x="338.70" y="20.90" width="155.90" height="46.90" fill="none" stroke="#262626" stroke-width="0.95"/>
<line x1="337.00" y1="28.70" x2="338.70" y2="28.70" stroke="#262626" stroke-width="0.6"/>
<text x="335.70" y="30.80" font-size="5.2" fill="#4d4d4d" text-anchor="end">5</text>
<line x1="337.00" y1="38.30" x2="338.70" y2="38.30" stroke="#262626" stroke-width="0.6"/>
<text x="335.70" y="40.40" font-size="5.2" fill="#4d4d4d" text-anchor="end">0</text>
<line x1="337.00" y1="47.90" x2="338.70" y2="47.90" stroke="#262626" stroke-width="0.6"/>
<text x="335.70" y="50.00" font-size="5.2" fill="#4d4d4d" text-anchor="end">-5</text>
<line x1="337.00" y1="57.50" x2="338.70" y2="57.50" stroke="#262626" stroke-width="0.6"/>
<text x="335.70" y="59.60" font-size="5.2" fill="#4d4d4d" text-anchor="end">-10</text>
<line x1="337.00" y1="67.10" x2="338.70" y2="67.10" stroke="#262626" stroke-width="0.6"/>
<text x="335.70" y="69.20" font-size="5.2" fill="#4d4d4d" text-anchor="end">-15</text>
<line x1="364.20" y1="67.80" x2="364.20" y2="69.50" stroke="#262626" stroke-width="0.6"/>
<text x="364.20" y="75.40" font-size="5.2" fill="#4d4d4d" text-anchor="middle">Jun</text>
<line x1="392.40" y1="67.80" x2="392.40" y2="69.50" stroke="#262626" stroke-width="0.6"/>
<text x="392.40" y="75.40" font-size="5.2" fill="#4d4d4d" text-anchor="middle">Jul</text>
<line x1="421.00" y1="67.80" x2="421.00" y2="69.50" stroke="#262626" stroke-width="0.6"/>
<text x="421.00" y="75.40" font-size="5.2" fill="#4d4d4d" text-anchor="middle">Aug</text>
<line x1="449.20" y1="67.80" x2="449.20" y2="69.50" stroke="#262626" stroke-width="0.6"/>
<text x="449.20" y="75.40" font-size="5.2" fill="#4d4d4d" text-anchor="middle">Sep</text>
<line x1="477.50" y1="67.80" x2="477.50" y2="69.50" stroke="#262626" stroke-width="0.6"/>
<text x="477.50" y="75.40" font-size="5.2" fill="#4d4d4d" text-anchor="middle">Oct</text>
<text x="325.00" y="44.55" font-size="6.65" fill="#000" text-anchor="middle" transform="rotate(-90 325.00 44.55)">Daily Lapse Rate (°C / km)</text>
<text x="338.40" y="15.20" font-size="7.8" fill="#000" text-anchor="start" font-weight="bold">B</text>
<line x1="338.8" y1="154.9" x2="494.6" y2="154.9" stroke="#ccc" stroke-width="0.8"/>
<circle cx="345.4" cy="128.6" r="1.35" fill="#000"/>
<circle cx="364.8" cy="130.0" r="1.35" fill="#000"/>
<circle cx="362.2" cy="134.3" r="1.35" fill="#000"/>
<circle cx="395.3" cy="125.3" r="1.35" fill="#000"/>
<circle cx="368.8" cy="150.4" r="1.35" fill="#000"/>
<circle cx="365.0" cy="153.2" r="1.35" fill="#000"/>
<circle cx="410.5" cy="166.7" r="1.35" fill="#000"/>
<circle cx="400.8" cy="167.7" r="1.35" fill="#000"/>
<circle cx="396.8" cy="171.2" r="1.35" fill="#000"/>
<circle cx="380.0" cy="176.2" r="1.35" fill="#000"/>
<circle cx="393.4" cy="176.9" r="1.35" fill="#000"/>
<circle cx="383.3" cy="179.9" r="1.35" fill="#000"/>
<circle cx="411.9" cy="179.6" r="1.35" fill="#000"/>
<circle cx="487.7" cy="102.6" r="1.35" fill="#000"/>
<circle cx="473.2" cy="109.2" r="1.35" fill="#000"/>
<circle cx="464.9" cy="121.0" r="1.35" fill="#000"/>
<circle cx="479.4" cy="127.2" r="1.35" fill="#000"/>
<circle cx="458.5" cy="131.0" r="1.35" fill="#000"/>
<circle cx="476.5" cy="136.0" r="1.35" fill="#000"/>
<circle cx="484.3" cy="135.7" r="1.35" fill="#000"/>
<circle cx="440.5" cy="147.6" r="1.35" fill="#000"/>
<circle cx="454.7" cy="146.4" r="1.35" fill="#000"/>
<circle cx="420.7" cy="150.4" r="1.35" fill="#000"/>
<circle cx="423.7" cy="150.2" r="1.35" fill="#000"/>
<circle cx="483.9" cy="149.5" r="1.35" fill="#000"/>
<circle cx="479.1" cy="151.8" r="1.35" fill="#000"/>
<circle cx="476.3" cy="153.9" r="1.35" fill="#000"/>
<circle cx="471.1" cy="155.6" r="1.35" fill="#000"/>
<circle cx="428.5" cy="154.2" r="1.35" fill="#000"/>
<circle cx="440.1" cy="153.0" r="1.35" fill="#000"/>
<circle cx="451.9" cy="154.2" r="1.35" fill="#000"/>
<circle cx="441.0" cy="157.0" r="1.35" fill="#000"/>
<circle cx="443.1" cy="158.4" r="1.35" fill="#000"/>
<circle cx="441.3" cy="161.1" r="1.35" fill="#000"/>
<circle cx="445.5" cy="162.5" r="1.35" fill="#000"/>
<circle cx="478.7" cy="160.8" r="1.35" fill="#000"/>
<circle cx="466.1" cy="163.2" r="1.35" fill="#000"/>
<circle cx="431.3" cy="164.6" r="1.35" fill="#000"/>
<circle cx="425.9" cy="166.3" r="1.35" fill="#000"/>
<circle cx="416.2" cy="169.6" r="1.35" fill="#000"/>
<circle cx="433.0" cy="168.4" r="1.35" fill="#000"/>
<circle cx="430.8" cy="170.3" r="1.35" fill="#000"/>
<circle cx="438.0" cy="167.2" r="1.35" fill="#000"/>
<circle cx="437.0" cy="168.9" r="1.35" fill="#000"/>
<circle cx="445.0" cy="169.1" r="1.35" fill="#000"/>
<circle cx="445.5" cy="171.2" r="1.35" fill="#000"/>
<circle cx="446.7" cy="172.7" r="1.35" fill="#000"/>
<circle cx="459.7" cy="167.9" r="1.35" fill="#000"/>
<circle cx="460.7" cy="170.8" r="1.35" fill="#000"/>
<circle cx="476.8" cy="170.5" r="1.35" fill="#000"/>
<circle cx="469.2" cy="172.4" r="1.35" fill="#000"/>
<circle cx="453.3" cy="174.3" r="1.35" fill="#000"/>
<circle cx="433.7" cy="175.5" r="1.35" fill="#000"/>
<circle cx="436.5" cy="177.9" r="1.35" fill="#000"/>
<circle cx="444.3" cy="175.0" r="1.35" fill="#000"/>
<circle cx="445.5" cy="177.4" r="1.35" fill="#000"/>
<circle cx="421.1" cy="176.2" r="1.35" fill="#000"/>
<circle cx="422.5" cy="177.9" r="1.35" fill="#000"/>
<circle cx="427.0" cy="177.4" r="1.35" fill="#000"/>
<circle cx="462.8" cy="176.7" r="1.35" fill="#000"/>
<circle cx="458.1" cy="178.3" r="1.35" fill="#000"/>
<circle cx="479.4" cy="179.5" r="1.35" fill="#000"/>
<circle cx="395.8" cy="181.1" r="1.35" fill="#000"/>
<circle cx="407.4" cy="180.9" r="1.35" fill="#000"/>
<circle cx="409.8" cy="183.0" r="1.35" fill="#000"/>
<circle cx="413.3" cy="182.3" r="1.35" fill="#000"/>
<circle cx="398.7" cy="187.3" r="1.35" fill="#000"/>
<circle cx="404.6" cy="188.5" r="1.35" fill="#000"/>
<circle cx="406.2" cy="188.5" r="1.35" fill="#000"/>
<circle cx="413.3" cy="187.8" r="1.35" fill="#000"/>
<circle cx="414.5" cy="184.7" r="1.35" fill="#000"/>
<circle cx="412.9" cy="190.1" r="1.35" fill="#000"/>
<circle cx="409.3" cy="192.0" r="1.35" fill="#000"/>
<circle cx="411.7" cy="193.0" r="1.35" fill="#000"/>
<circle cx="414.0" cy="193.0" r="1.35" fill="#000"/>
<circle cx="400.5" cy="196.0" r="1.35" fill="#000"/>
<circle cx="385.6" cy="196.3" r="1.35" fill="#000"/>
<circle cx="381.4" cy="197.7" r="1.35" fill="#000"/>
<circle cx="390.8" cy="197.7" r="1.35" fill="#000"/>
<circle cx="378.3" cy="199.4" r="1.35" fill="#000"/>
<circle cx="371.4" cy="198.9" r="1.35" fill="#000"/>
<circle cx="370.7" cy="201.3" r="1.35" fill="#000"/>
<circle cx="384.0" cy="200.8" r="1.35" fill="#000"/>
<circle cx="404.1" cy="198.9" r="1.35" fill="#000"/>
<circle cx="404.6" cy="202.0" r="1.35" fill="#000"/>
<circle cx="411.0" cy="202.7" r="1.35" fill="#000"/>
<circle cx="414.3" cy="197.9" r="1.35" fill="#000"/>
<circle cx="414.5" cy="200.8" r="1.35" fill="#000"/>
<circle cx="394.4" cy="200.3" r="1.35" fill="#000"/>
<circle cx="392.7" cy="202.4" r="1.35" fill="#000"/>
<circle cx="395.8" cy="202.0" r="1.35" fill="#000"/>
<circle cx="396.3" cy="203.9" r="1.35" fill="#000"/>
<circle cx="368.6" cy="204.8" r="1.35" fill="#000"/>
<circle cx="351.3" cy="206.0" r="1.35" fill="#000"/>
<circle cx="386.1" cy="206.2" r="1.35" fill="#000"/>
<circle cx="379.2" cy="206.7" r="1.35" fill="#000"/>
<circle cx="376.6" cy="207.4" r="1.35" fill="#000"/>
<circle cx="411.7" cy="206.7" r="1.35" fill="#000"/>
<circle cx="390.4" cy="208.1" r="1.35" fill="#000"/>
<circle cx="392.7" cy="209.1" r="1.35" fill="#000"/>
<circle cx="386.8" cy="209.5" r="1.35" fill="#000"/>
<circle cx="370.2" cy="210.7" r="1.35" fill="#000"/>
<circle cx="373.1" cy="211.9" r="1.35" fill="#000"/>
<circle cx="395.1" cy="211.4" r="1.35" fill="#000"/>
<circle cx="396.8" cy="212.1" r="1.35" fill="#000"/>
<circle cx="379.0" cy="213.6" r="1.35" fill="#000"/>
<circle cx="395.6" cy="214.3" r="1.35" fill="#000"/>
<circle cx="367.4" cy="215.9" r="1.35" fill="#000"/>
<circle cx="401.0" cy="216.2" r="1.35" fill="#000"/>
<circle cx="412.4" cy="216.6" r="1.35" fill="#000"/>
<circle cx="382.8" cy="217.3" r="1.35" fill="#000"/>
<circle cx="401.5" cy="218.1" r="1.35" fill="#000"/>
<circle cx="383.7" cy="219.2" r="1.35" fill="#000"/>
<circle cx="398.2" cy="219.5" r="1.35" fill="#000"/>
<circle cx="377.3" cy="222.6" r="1.35" fill="#000"/>
<circle cx="395.1" cy="223.0" r="1.35" fill="#000"/>
<circle cx="373.3" cy="225.6" r="1.35" fill="#000"/>
<circle cx="385.6" cy="225.6" r="1.35" fill="#000"/>
<circle cx="380.9" cy="247.7" r="1.35" fill="#000"/>
<circle cx="445.5" cy="175.2" r="1.35" fill="#000"/>
<circle cx="446.2" cy="179.9" r="1.35" fill="#000"/>
<circle cx="421.1" cy="179.5" r="1.35" fill="#000"/>
<circle cx="423.0" cy="180.7" r="1.35" fill="#000"/>
<circle cx="424.7" cy="182.3" r="1.35" fill="#000"/>
<circle cx="478.7" cy="181.1" r="1.35" fill="#000"/>
<circle cx="477.0" cy="181.8" r="1.35" fill="#000"/>
<circle cx="459.0" cy="181.8" r="1.35" fill="#000"/>
<circle cx="451.4" cy="184.2" r="1.35" fill="#000"/>
<circle cx="443.9" cy="184.9" r="1.35" fill="#000"/>
<circle cx="431.8" cy="185.9" r="1.35" fill="#000"/>
<circle cx="428.5" cy="188.9" r="1.35" fill="#000"/>
<circle cx="421.1" cy="189.6" r="1.35" fill="#000"/>
<circle cx="413.6" cy="188.9" r="1.35" fill="#000"/>
<circle cx="412.4" cy="191.3" r="1.35" fill="#000"/>
<circle cx="415.2" cy="191.8" r="1.35" fill="#000"/>
<circle cx="464.9" cy="189.4" r="1.35" fill="#000"/>
<circle cx="442.4" cy="190.6" r="1.35" fill="#000"/>
<circle cx="445.0" cy="190.6" r="1.35" fill="#000"/>
<circle cx="435.6" cy="191.3" r="1.35" fill="#000"/>
<circle cx="436.0" cy="193.7" r="1.35" fill="#000"/>
<circle cx="436.0" cy="195.6" r="1.35" fill="#000"/>
<circle cx="472.3" cy="195.3" r="1.35" fill="#000"/>
<circle cx="470.4" cy="199.6" r="1.35" fill="#000"/>
<circle cx="436.0" cy="200.8" r="1.35" fill="#000"/>
<circle cx="438.9" cy="202.4" r="1.35" fill="#000"/>
<circle cx="428.9" cy="209.1" r="1.35" fill="#000"/>
<circle cx="419.5" cy="211.9" r="1.35" fill="#000"/>
<circle cx="434.4" cy="213.1" r="1.35" fill="#000"/>
<circle cx="416.4" cy="218.1" r="1.35" fill="#000"/>
<rect x="338.80" y="95.80" width="155.80" height="158.70" fill="none" stroke="#262626" stroke-width="0.95"/>
<line x1="337.10" y1="122.70" x2="338.80" y2="122.70" stroke="#262626" stroke-width="0.6"/>
<text x="335.80" y="124.80" font-size="5.2" fill="#4d4d4d" text-anchor="end">5</text>
<line x1="337.10" y1="154.90" x2="338.80" y2="154.90" stroke="#262626" stroke-width="0.6"/>
<text x="335.80" y="157.00" font-size="5.2" fill="#4d4d4d" text-anchor="end">0</text>
<line x1="337.10" y1="187.10" x2="338.80" y2="187.10" stroke="#262626" stroke-width="0.6"/>
<text x="335.80" y="189.20" font-size="5.2" fill="#4d4d4d" text-anchor="end">-5</text>
<line x1="337.10" y1="219.30" x2="338.80" y2="219.30" stroke="#262626" stroke-width="0.6"/>
<text x="335.80" y="221.40" font-size="5.2" fill="#4d4d4d" text-anchor="end">-10</text>
<line x1="337.10" y1="251.50" x2="338.80" y2="251.50" stroke="#262626" stroke-width="0.6"/>
<text x="335.80" y="253.60" font-size="5.2" fill="#4d4d4d" text-anchor="end">-15</text>
<line x1="371.20" y1="254.50" x2="371.20" y2="256.20" stroke="#262626" stroke-width="0.6"/>
<text x="371.20" y="262.10" font-size="5.2" fill="#4d4d4d" text-anchor="middle">10</text>
<line x1="408.30" y1="254.50" x2="408.30" y2="256.20" stroke="#262626" stroke-width="0.6"/>
<text x="408.30" y="262.10" font-size="5.2" fill="#4d4d4d" text-anchor="middle">15</text>
<line x1="445.40" y1="254.50" x2="445.40" y2="256.20" stroke="#262626" stroke-width="0.6"/>
<text x="445.40" y="262.10" font-size="5.2" fill="#4d4d4d" text-anchor="middle">20</text>
<line x1="482.50" y1="254.50" x2="482.50" y2="256.20" stroke="#262626" stroke-width="0.6"/>
<text x="482.50" y="262.10" font-size="5.2" fill="#4d4d4d" text-anchor="middle">25</text>
<text x="416.70" y="270.60" font-size="6.65" fill="#000" text-anchor="middle">Mean Daily Air Temperature in Pemberton (°C)</text>
<text x="325.20" y="175.15" font-size="6.65" fill="#000" text-anchor="middle" transform="rotate(-90 325.20 175.15)">On-glacier Linear Lapse Rate (°C / km)</text>
<text x="338.50" y="90.40" font-size="7.8" fill="#000" text-anchor="start" font-weight="bold">D</text>
<polyline points="345.7,311.6 346.5,319.0 347.7,322.8 348.4,320.7 349.4,322.4 350.4,329.8 351.5,336.0 352.9,333.4 353.9,328.5 354.9,330.2 355.8,327.1 357.2,324.5 358.4,330.6 359.3,332.0 360.3,329.8 361.3,331.6 362.5,334.1 363.6,329.0 364.8,327.1 366.0,330.7 367.5,333.8 368.5,329.6 369.5,322.2 370.8,313.7 372.0,311.0 373.0,314.5 374.0,323.1 374.7,326.5 375.7,321.4 376.7,325.0 377.8,329.1 378.6,332.3 379.6,328.5 380.8,320.8 381.9,313.8 383.1,310.0 384.1,314.6 385.1,322.2 386.0,319.2 387.0,314.6 388.0,321.0 389.0,326.3 389.9,321.2 390.3,319.2 391.3,316.1 392.6,315.2 393.8,313.0 395.0,308.3 396.1,303.1 397.3,299.6 398.5,295.1 399.5,289.6 400.4,292.2 401.4,298.0 402.4,300.5 403.5,298.5 404.9,299.6 406.3,296.6 407.4,293.3 408.4,297.5 409.4,294.3 410.4,293.4 411.3,298.9 412.1,306.9 413.1,313.2 414.1,319.1 415.0,321.1 416.0,317.4 417.0,310.0 418.2,313.4 419.1,316.2 420.1,309.5 420.8,301.4 422.1,299.5 423.5,300.5 425.1,303.4 426.6,306.3 428.0,309.2 429.5,310.2 430.9,310.2 432.3,311.2 433.8,313.1 435.2,316.0 436.8,315.1 437.9,318.0 439.3,319.9 440.0,317.0 441.6,319.0 442.9,321.9 444.3,324.8 445.3,326.8 446.4,321.9 447.8,316.0 449.2,313.1 450.7,311.2 452.1,310.2 453.6,312.1 455.2,314.1 456.6,315.1 457.9,318.0 459.1,322.9 460.5,321.9 461.8,325.8 463.0,323.8 463.8,327.7 464.7,331.6 465.7,327.7 466.9,323.8 468.2,325.8 469.2,326.8 470.2,321.9 471.2,322.9 472.1,328.7 473.1,332.6 474.1,331.6 475.1,336.5 476.4,340.4 477.4,336.5 478.6,335.5 479.9,336.5 481.3,333.6 482.9,331.6 484.2,332.6 485.4,333.6 486.4,339.4 487.3,342.3 487.9,337.5" fill="none" stroke="#ff2020" stroke-width="0.75" stroke-linejoin="round"/>
<polyline points="345.4,311.2 346.2,318.0 347.4,321.9 348.1,319.9 349.1,321.9 350.1,328.7 351.2,334.9 352.6,332.6 353.6,327.7 354.6,329.7 355.5,326.8 356.9,323.8 358.1,329.7 359.0,331.6 360.0,328.7 361.0,331.0 362.2,333.6 363.3,328.7 364.5,325.8 365.7,329.7 367.2,332.6 368.2,328.7 369.2,321.9 370.5,313.1 371.7,310.2 372.7,314.1 373.7,321.9 374.4,325.8 375.4,320.9 376.4,323.8 377.5,328.7 378.3,331.0 379.3,327.7 380.5,319.9 381.6,313.1 382.8,309.2 383.8,314.1 384.8,321.9 385.7,318.0 386.7,314.1 387.7,319.9 388.7,325.8 389.6,319.9 390.0,318.0 391.0,315.1 392.3,314.1 393.5,312.1 394.7,307.3 395.8,302.4 397.0,298.5 398.2,293.6 399.2,288.8 400.1,290.7 401.1,296.6 402.1,299.5 403.2,297.5 404.6,298.5 406.0,295.6 407.1,291.7 408.1,296.6 409.1,293.6 410.1,292.7 411.0,297.5 411.8,305.3 412.8,312.1 413.8,318.0 414.7,319.9 415.7,316.0 416.7,309.2 417.9,312.1 418.8,315.1 419.8,308.2 420.8,299.5 421.8,294.6 422.7,293.6 423.7,296.6 424.7,298.5 425.7,299.5 427.0,300.5 428.4,299.5 429.5,302.4 430.9,304.4 432.1,307.3 433.2,309.2 434.4,308.2 435.8,307.3 436.8,311.2 437.9,314.1 439.1,317.0 440.0,311.2 441.0,313.1 441.9,317.0 442.9,320.9 443.9,323.8 444.9,325.8 445.8,321.9 446.8,314.1 447.8,303.4 448.8,296.6 449.7,293.6 450.7,297.5 451.7,304.4 452.7,299.5 453.6,294.6 454.6,292.1 455.6,293.6 456.6,299.5 457.5,309.2 458.5,317.0 459.5,320.9 460.5,318.0 461.4,320.9 462.4,321.9 463.4,314.1 464.2,309.2 464.9,314.1 465.9,318.0 466.9,319.9 467.9,321.9 468.8,318.0 469.8,314.1 470.8,311.2 471.6,316.0 472.5,323.8 473.5,328.7 474.5,325.8 475.5,332.6 476.4,335.5 477.4,331.6 478.4,327.7 479.4,332.6 480.3,328.7 481.3,322.9 482.3,319.9 483.2,321.9 484.2,328.7 485.2,332.6 486.2,323.8 487.1,316.0 487.7,310.2" fill="none" stroke="#2222ee" stroke-width="0.8" stroke-dasharray="2.2,1.4" stroke-linejoin="round"/>
<polyline points="345.6,311.0 346.4,318.0 347.6,322.3 348.3,319.8 349.3,321.8 350.3,328.7 351.4,334.5 352.8,332.5 353.8,327.8 354.8,329.9 355.7,326.2 357.1,323.5 358.3,329.1 359.2,331.9 360.2,328.8 361.2,330.4 362.4,334.1 363.5,329.2 364.7,325.9 365.9,329.7 367.4,332.1 368.4,328.0 369.4,320.8 370.7,311.5 371.9,308.7 372.9,312.7 373.9,321.2 374.6,325.6 375.6,320.7 376.6,324.1 377.7,328.6 378.5,331.1 379.5,327.6 380.7,318.8 381.8,311.8 383.0,307.7 384.0,313.4 385.0,322.4 385.9,318.3 386.9,314.2 387.9,319.6 388.9,325.4 389.8,319.6 390.2,317.4 391.2,315.3 392.5,313.9 393.7,312.5 394.9,307.0 396.0,302.9 397.2,296.3 398.4,290.4 399.4,285.8 400.3,288.6 401.3,293.9 402.3,300.0 403.4,297.3 404.8,297.9 406.2,295.6 407.3,295.4 408.3,299.7 409.3,296.5 410.3,295.9 411.2,298.0 412.0,305.5 413.0,311.6 414.0,317.6 414.9,319.4 415.9,315.4 416.9,309.5 418.1,311.7 419.0,315.0 420.0,308.1 421.0,299.0 422.0,294.8 422.9,293.1 423.9,296.6 424.9,297.9 425.9,299.3 427.2,300.0 428.6,299.1 429.7,302.9 431.1,304.6 432.3,306.9 433.4,309.6 434.6,307.8 436.0,307.0 437.0,311.5 438.1,314.2 439.3,316.4 440.2,311.7 441.2,312.7 442.1,316.6 443.1,321.1 444.1,323.5 445.1,325.4 446.0,321.3 447.0,313.5 448.0,303.4 449.0,296.2 449.9,293.7 450.9,297.3 451.9,304.2 452.9,299.9 453.8,294.5 454.8,292.1 455.8,294.0 456.8,299.0 457.7,308.7 458.7,317.4 459.7,321.2 460.7,317.6 461.6,320.4 462.6,322.1 463.6,314.5 464.4,308.8 465.1,314.5 466.1,318.3 467.1,320.0 468.1,321.7 469.0,317.4 470.0,313.4 471.0,311.6 471.8,315.6 472.7,324.0 473.7,328.3 474.7,326.1 475.7,332.6 476.6,335.2 477.6,331.1 478.6,327.9 479.6,332.0 480.5,328.3 481.5,322.8 482.5,320.3 483.4,321.9 484.4,328.3 485.4,333.0 486.4,323.4 487.3,315.4 487.9,309.8" fill="none" stroke="#22dd22" stroke-width="0.75" stroke-dasharray="2.4,1.2,0.8,1.2" stroke-linejoin="round"/>
<rect x="338.70" y="282.70" width="155.90" height="63.30" fill="none" stroke="#262626" stroke-width="0.95"/>
<line x1="337.00" y1="287.67" x2="338.70" y2="287.67" stroke="#262626" stroke-width="0.6"/>
<text x="335.70" y="289.77" font-size="5.2" fill="#4d4d4d" text-anchor="end">17.5</text>
<line x1="337.00" y1="293.81" x2="338.70" y2="293.81" stroke="#262626" stroke-width="0.6"/>
<text x="335.70" y="295.91" font-size="5.2" fill="#4d4d4d" text-anchor="end">15.0</text>
<line x1="337.00" y1="299.94" x2="338.70" y2="299.94" stroke="#262626" stroke-width="0.6"/>
<text x="335.70" y="302.04" font-size="5.2" fill="#4d4d4d" text-anchor="end">12.5</text>
<line x1="337.00" y1="306.07" x2="338.70" y2="306.07" stroke="#262626" stroke-width="0.6"/>
<text x="335.70" y="308.17" font-size="5.2" fill="#4d4d4d" text-anchor="end">10.0</text>
<line x1="337.00" y1="312.20" x2="338.70" y2="312.20" stroke="#262626" stroke-width="0.6"/>
<text x="335.70" y="314.30" font-size="5.2" fill="#4d4d4d" text-anchor="end">7.5</text>
<line x1="337.00" y1="318.34" x2="338.70" y2="318.34" stroke="#262626" stroke-width="0.6"/>
<text x="335.70" y="320.44" font-size="5.2" fill="#4d4d4d" text-anchor="end">5.0</text>
<line x1="337.00" y1="324.47" x2="338.70" y2="324.47" stroke="#262626" stroke-width="0.6"/>
<text x="335.70" y="326.57" font-size="5.2" fill="#4d4d4d" text-anchor="end">2.5</text>
<line x1="337.00" y1="330.60" x2="338.70" y2="330.60" stroke="#262626" stroke-width="0.6"/>
<text x="335.70" y="332.70" font-size="5.2" fill="#4d4d4d" text-anchor="end">0.0</text>
<line x1="337.00" y1="336.73" x2="338.70" y2="336.73" stroke="#262626" stroke-width="0.6"/>
<text x="335.70" y="338.83" font-size="5.2" fill="#4d4d4d" text-anchor="end">-2.5</text>
<line x1="337.00" y1="342.87" x2="338.70" y2="342.87" stroke="#262626" stroke-width="0.6"/>
<text x="335.70" y="344.97" font-size="5.2" fill="#4d4d4d" text-anchor="end">-5.0</text>
<line x1="364.50" y1="346.00" x2="364.50" y2="347.70" stroke="#262626" stroke-width="0.6"/>
<text x="364.50" y="353.60" font-size="5.2" fill="#4d4d4d" text-anchor="middle">Jun</text>
<line x1="392.60" y1="346.00" x2="392.60" y2="347.70" stroke="#262626" stroke-width="0.6"/>
<text x="392.60" y="353.60" font-size="5.2" fill="#4d4d4d" text-anchor="middle">Jul</text>
<line x1="421.20" y1="346.00" x2="421.20" y2="347.70" stroke="#262626" stroke-width="0.6"/>
<text x="421.20" y="353.60" font-size="5.2" fill="#4d4d4d" text-anchor="middle">Aug</text>
<line x1="450.00" y1="346.00" x2="450.00" y2="347.70" stroke="#262626" stroke-width="0.6"/>
<text x="450.00" y="353.60" font-size="5.2" fill="#4d4d4d" text-anchor="middle">Sep</text>
<line x1="477.60" y1="346.00" x2="477.60" y2="347.70" stroke="#262626" stroke-width="0.6"/>
<text x="477.60" y="353.60" font-size="5.2" fill="#4d4d4d" text-anchor="middle">Oct</text>
<text x="322.00" y="314.35" font-size="6.65" fill="#000" text-anchor="middle" transform="rotate(-90 322.00 314.35)">Air Temperature (°C)</text>
<text x="338.40" y="277.40" font-size="7.8" fill="#000" text-anchor="start" font-weight="bold">E</text>
</svg>
</body></html>
